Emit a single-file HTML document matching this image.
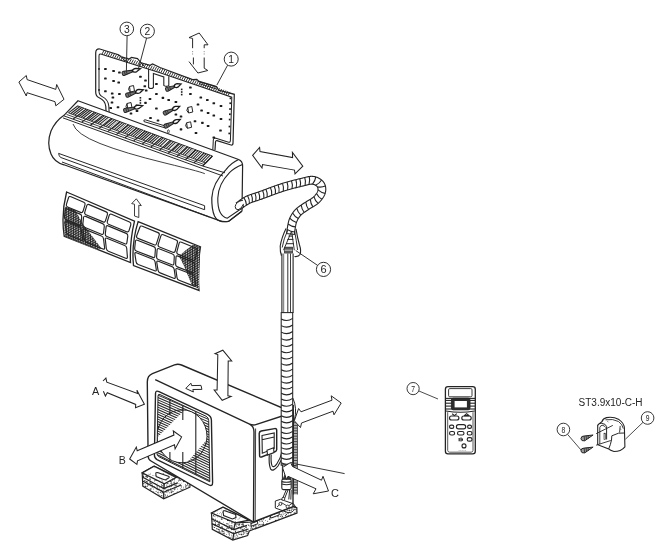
<!DOCTYPE html>
<html lang="en"><head><meta charset="utf-8"><title>Air conditioner installation diagram</title><style>html,body{margin:0;padding:0;background:#fff}body{width:670px;height:552px;overflow:hidden;font-family:"Liberation Sans",Arial,sans-serif}svg{filter:blur(0.35px)}</style></head><body>
<svg width="670" height="552" viewBox="0 0 670 552" style="display:block" font-family="'Liberation Sans', Arial, sans-serif"><rect width="670" height="552" fill="#fff"/><defs>
<pattern id="speck" width="24" height="24" patternUnits="userSpaceOnUse"><rect width="24" height="24" fill="#fff"/><g fill="#333"><circle cx="7.8" cy="3.6" r="0.51"/><circle cx="1.7" cy="12.9" r="0.42"/><circle cx="1.4" cy="12.2" r="0.31"/><circle cx="10.4" cy="1.7" r="0.33"/><circle cx="10.2" cy="19.8" r="0.34"/><circle cx="5.4" cy="15.1" r="0.60"/><circle cx="13.9" cy="9.5" r="0.61"/><circle cx="1.1" cy="20.6" r="0.39"/><circle cx="3.5" cy="2.8" r="0.40"/><circle cx="19.6" cy="4.3" r="0.49"/><circle cx="15.3" cy="8.9" r="0.48"/><circle cx="1.5" cy="1.4" r="0.37"/><circle cx="16.3" cy="10.3" r="0.40"/><circle cx="14.1" cy="10.9" r="0.40"/><circle cx="19.1" cy="16.8" r="0.38"/><circle cx="13.8" cy="12.6" r="0.58"/><circle cx="17.5" cy="6.9" r="0.61"/><circle cx="2.8" cy="10.0" r="0.54"/><circle cx="3.6" cy="11.7" r="0.31"/><circle cx="16.0" cy="18.3" r="0.48"/><circle cx="21.0" cy="7.5" r="0.52"/><circle cx="14.3" cy="13.9" r="0.45"/><circle cx="20.2" cy="22.7" r="0.45"/><circle cx="15.9" cy="1.5" r="0.52"/><circle cx="15.5" cy="23.8" r="0.56"/><circle cx="6.8" cy="9.3" r="0.51"/><circle cx="0.5" cy="11.1" r="0.35"/><circle cx="2.8" cy="1.4" r="0.55"/><circle cx="3.1" cy="5.9" r="0.43"/><circle cx="20.9" cy="1.9" r="0.44"/><circle cx="13.2" cy="21.2" r="0.56"/><circle cx="20.7" cy="6.7" r="0.43"/><circle cx="8.6" cy="21.2" r="0.61"/><circle cx="3.6" cy="4.2" r="0.37"/><circle cx="5.6" cy="11.6" r="0.49"/><circle cx="6.3" cy="0.1" r="0.43"/><circle cx="8.9" cy="13.6" r="0.60"/><circle cx="16.6" cy="12.4" r="0.50"/><circle cx="16.2" cy="1.3" r="0.59"/><circle cx="18.7" cy="21.0" r="0.56"/><circle cx="9.4" cy="9.6" r="0.33"/><circle cx="15.2" cy="1.5" r="0.32"/><circle cx="5.0" cy="3.9" r="0.41"/><circle cx="1.3" cy="0.0" r="0.35"/><circle cx="2.4" cy="8.7" r="0.31"/><circle cx="21.0" cy="14.7" r="0.35"/><circle cx="6.1" cy="8.3" r="0.42"/><circle cx="2.9" cy="20.4" r="0.62"/><circle cx="11.2" cy="11.6" r="0.33"/><circle cx="2.5" cy="8.2" r="0.38"/><circle cx="19.9" cy="3.9" r="0.31"/><circle cx="22.8" cy="12.7" r="0.35"/><circle cx="13.0" cy="0.6" r="0.47"/><circle cx="23.5" cy="20.7" r="0.52"/><circle cx="6.3" cy="8.8" r="0.35"/><circle cx="18.5" cy="12.8" r="0.55"/><circle cx="7.9" cy="5.4" r="0.56"/><circle cx="23.6" cy="20.5" r="0.56"/><circle cx="19.6" cy="17.8" r="0.37"/><circle cx="12.4" cy="8.5" r="0.31"/><circle cx="0.7" cy="6.7" r="0.38"/><circle cx="16.6" cy="23.0" r="0.44"/><circle cx="22.5" cy="23.7" r="0.61"/><circle cx="8.8" cy="5.3" r="0.37"/><circle cx="4.7" cy="4.9" r="0.50"/><circle cx="21.6" cy="20.2" r="0.45"/><circle cx="15.7" cy="19.2" r="0.33"/><circle cx="15.9" cy="21.8" r="0.55"/><circle cx="18.0" cy="11.5" r="0.36"/><circle cx="18.9" cy="8.0" r="0.56"/><circle cx="23.3" cy="9.5" r="0.43"/><circle cx="22.7" cy="17.4" r="0.35"/><circle cx="3.0" cy="3.6" r="0.59"/><circle cx="19.4" cy="3.5" r="0.56"/><circle cx="23.5" cy="15.8" r="0.41"/><circle cx="13.2" cy="3.1" r="0.30"/><circle cx="23.3" cy="15.6" r="0.47"/><circle cx="22.4" cy="10.4" r="0.58"/><circle cx="19.8" cy="5.1" r="0.38"/><circle cx="7.0" cy="5.8" r="0.49"/><circle cx="6.2" cy="10.1" r="0.34"/><circle cx="21.8" cy="8.5" r="0.45"/><circle cx="14.0" cy="21.7" r="0.43"/><circle cx="22.0" cy="12.0" r="0.47"/><circle cx="12.6" cy="0.4" r="0.44"/><circle cx="4.4" cy="0.1" r="0.56"/><circle cx="4.1" cy="11.4" r="0.53"/><circle cx="13.4" cy="7.8" r="0.47"/><circle cx="13.3" cy="18.8" r="0.33"/><circle cx="13.4" cy="6.0" r="0.39"/><circle cx="18.5" cy="12.2" r="0.48"/><circle cx="18.2" cy="21.9" r="0.44"/><circle cx="14.7" cy="12.1" r="0.46"/><circle cx="16.6" cy="10.9" r="0.47"/><circle cx="11.5" cy="22.6" r="0.52"/><circle cx="21.0" cy="22.6" r="0.38"/><circle cx="13.4" cy="22.6" r="0.57"/><circle cx="3.3" cy="2.9" r="0.44"/><circle cx="1.7" cy="5.8" r="0.32"/><circle cx="16.1" cy="18.8" r="0.59"/><circle cx="3.7" cy="17.2" r="0.51"/><circle cx="3.4" cy="21.2" r="0.61"/><circle cx="5.3" cy="22.9" r="0.43"/><circle cx="11.7" cy="23.8" r="0.57"/><circle cx="3.9" cy="10.4" r="0.46"/><circle cx="8.1" cy="4.7" r="0.40"/><circle cx="17.3" cy="0.5" r="0.48"/><circle cx="10.6" cy="0.4" r="0.41"/><circle cx="15.0" cy="12.3" r="0.32"/><circle cx="23.6" cy="18.9" r="0.61"/><circle cx="2.5" cy="6.4" r="0.31"/><circle cx="18.7" cy="6.5" r="0.34"/><circle cx="10.1" cy="21.9" r="0.56"/><circle cx="6.2" cy="3.6" r="0.59"/><circle cx="13.7" cy="16.8" r="0.33"/><circle cx="1.4" cy="16.5" r="0.44"/><circle cx="1.7" cy="22.5" r="0.50"/><circle cx="19.2" cy="2.0" r="0.57"/><circle cx="1.6" cy="20.7" r="0.45"/><circle cx="8.1" cy="13.3" r="0.60"/><circle cx="6.4" cy="3.1" r="0.47"/><circle cx="5.7" cy="2.6" r="0.35"/><circle cx="1.2" cy="4.8" r="0.40"/><circle cx="7.3" cy="18.2" r="0.39"/><circle cx="12.0" cy="4.3" r="0.41"/><circle cx="0.4" cy="6.0" r="0.30"/><circle cx="17.6" cy="13.2" r="0.36"/><circle cx="11.4" cy="22.4" r="0.33"/><circle cx="19.7" cy="10.4" r="0.46"/><circle cx="20.0" cy="9.4" r="0.46"/><circle cx="16.5" cy="23.6" r="0.41"/><circle cx="20.0" cy="17.0" r="0.50"/><circle cx="9.7" cy="8.3" r="0.32"/><circle cx="3.1" cy="1.7" r="0.54"/><circle cx="6.1" cy="3.9" r="0.33"/><circle cx="20.2" cy="20.9" r="0.51"/><circle cx="6.8" cy="5.8" r="0.39"/><circle cx="11.0" cy="3.8" r="0.44"/><circle cx="6.3" cy="23.1" r="0.61"/><circle cx="13.1" cy="5.9" r="0.61"/><circle cx="7.4" cy="8.6" r="0.30"/><circle cx="9.2" cy="11.4" r="0.46"/><circle cx="4.8" cy="12.1" r="0.30"/><circle cx="6.3" cy="2.2" r="0.43"/><circle cx="1.0" cy="0.5" r="0.40"/><circle cx="5.6" cy="14.1" r="0.47"/><circle cx="18.0" cy="15.8" r="0.53"/><circle cx="21.1" cy="9.3" r="0.40"/><circle cx="23.6" cy="3.6" r="0.53"/><circle cx="15.4" cy="1.1" r="0.57"/><circle cx="21.4" cy="15.1" r="0.53"/><circle cx="19.5" cy="3.3" r="0.47"/><circle cx="12.1" cy="20.0" r="0.56"/><circle cx="19.8" cy="14.0" r="0.59"/><circle cx="16.4" cy="16.6" r="0.37"/><circle cx="0.7" cy="3.2" r="0.42"/><circle cx="2.5" cy="20.1" r="0.48"/><circle cx="15.1" cy="15.0" r="0.52"/><circle cx="11.7" cy="0.1" r="0.56"/><circle cx="18.0" cy="12.1" r="0.47"/><circle cx="15.8" cy="1.6" r="0.54"/><circle cx="6.1" cy="1.8" r="0.38"/><circle cx="17.5" cy="4.9" r="0.54"/><circle cx="23.4" cy="11.9" r="0.42"/><circle cx="11.5" cy="16.4" r="0.55"/><circle cx="14.8" cy="15.4" r="0.32"/><circle cx="3.5" cy="6.1" r="0.54"/><circle cx="7.3" cy="13.6" r="0.30"/><circle cx="1.5" cy="6.5" r="0.52"/><circle cx="16.6" cy="16.2" r="0.39"/><circle cx="12.4" cy="11.2" r="0.45"/><circle cx="2.8" cy="21.4" r="0.36"/><circle cx="23.5" cy="22.5" r="0.31"/><circle cx="11.0" cy="19.7" r="0.61"/><circle cx="10.8" cy="6.4" r="0.37"/><circle cx="22.7" cy="5.1" r="0.49"/><circle cx="3.4" cy="12.6" r="0.60"/><circle cx="3.2" cy="19.7" r="0.46"/><circle cx="21.3" cy="16.9" r="0.37"/><circle cx="21.5" cy="11.7" r="0.31"/><circle cx="0.1" cy="11.8" r="0.44"/><circle cx="7.2" cy="3.4" r="0.41"/><circle cx="7.6" cy="20.2" r="0.30"/><circle cx="18.0" cy="20.1" r="0.34"/><circle cx="22.2" cy="17.1" r="0.59"/><circle cx="7.0" cy="8.9" r="0.43"/><circle cx="24.0" cy="14.1" r="0.42"/><circle cx="10.3" cy="6.6" r="0.32"/><circle cx="2.4" cy="20.0" r="0.39"/><circle cx="22.5" cy="6.0" r="0.39"/><circle cx="12.3" cy="4.6" r="0.42"/><circle cx="22.9" cy="21.2" r="0.56"/><circle cx="15.1" cy="21.9" r="0.60"/><circle cx="13.2" cy="17.3" r="0.32"/><circle cx="17.6" cy="10.8" r="0.54"/><circle cx="15.5" cy="6.9" r="0.32"/><circle cx="22.2" cy="3.1" r="0.45"/><circle cx="8.2" cy="7.1" r="0.54"/><circle cx="23.4" cy="6.2" r="0.51"/><circle cx="7.2" cy="13.4" r="0.43"/><circle cx="4.0" cy="3.9" r="0.37"/><circle cx="21.7" cy="11.9" r="0.37"/><circle cx="21.8" cy="23.9" r="0.44"/><circle cx="3.4" cy="4.6" r="0.33"/><circle cx="8.2" cy="2.2" r="0.38"/><circle cx="6.2" cy="13.7" r="0.58"/><circle cx="18.0" cy="9.9" r="0.43"/><circle cx="12.6" cy="9.0" r="0.41"/><circle cx="1.5" cy="6.7" r="0.61"/><circle cx="3.0" cy="12.1" r="0.50"/><circle cx="20.7" cy="5.2" r="0.39"/><circle cx="6.0" cy="9.6" r="0.44"/><circle cx="22.9" cy="20.4" r="0.58"/><circle cx="0.5" cy="0.8" r="0.53"/><circle cx="21.5" cy="11.4" r="0.49"/><circle cx="0.0" cy="9.4" r="0.60"/><circle cx="19.8" cy="20.5" r="0.61"/><circle cx="6.0" cy="2.6" r="0.35"/><circle cx="12.5" cy="16.4" r="0.60"/><circle cx="17.3" cy="15.5" r="0.54"/><circle cx="11.0" cy="13.2" r="0.31"/><circle cx="18.8" cy="5.6" r="0.59"/><circle cx="15.5" cy="7.3" r="0.34"/><circle cx="6.0" cy="15.3" r="0.52"/><circle cx="2.7" cy="1.7" r="0.47"/><circle cx="14.0" cy="9.3" r="0.37"/><circle cx="14.4" cy="0.3" r="0.40"/><circle cx="11.1" cy="23.0" r="0.51"/><circle cx="21.2" cy="11.4" r="0.38"/><circle cx="5.9" cy="23.1" r="0.53"/></g></pattern>
<pattern id="speck2" width="24" height="24" patternUnits="userSpaceOnUse"><rect width="24" height="24" fill="#fff"/><g fill="#444"><circle cx="7.4" cy="0.5" r="0.4"/><circle cx="12.0" cy="16.2" r="0.4"/><circle cx="10.1" cy="6.2" r="0.4"/><circle cx="16.0" cy="22.2" r="0.4"/><circle cx="5.4" cy="0.8" r="0.4"/><circle cx="8.1" cy="10.1" r="0.4"/><circle cx="16.4" cy="4.8" r="0.4"/><circle cx="19.1" cy="17.7" r="0.4"/><circle cx="12.1" cy="4.9" r="0.4"/><circle cx="23.3" cy="7.5" r="0.4"/><circle cx="19.7" cy="5.5" r="0.4"/><circle cx="5.3" cy="18.3" r="0.4"/><circle cx="7.1" cy="22.8" r="0.4"/><circle cx="11.9" cy="4.5" r="0.4"/><circle cx="5.4" cy="10.0" r="0.4"/><circle cx="16.0" cy="22.8" r="0.4"/><circle cx="3.5" cy="9.4" r="0.4"/><circle cx="5.1" cy="23.4" r="0.4"/><circle cx="3.4" cy="1.2" r="0.4"/><circle cx="1.4" cy="9.4" r="0.4"/><circle cx="21.6" cy="21.2" r="0.4"/><circle cx="17.6" cy="23.9" r="0.4"/><circle cx="22.4" cy="7.9" r="0.4"/><circle cx="4.5" cy="22.5" r="0.4"/><circle cx="17.9" cy="0.8" r="0.4"/><circle cx="15.9" cy="9.1" r="0.4"/><circle cx="9.0" cy="8.0" r="0.4"/><circle cx="4.1" cy="0.1" r="0.4"/><circle cx="6.7" cy="8.4" r="0.4"/><circle cx="22.9" cy="3.0" r="0.4"/><circle cx="23.1" cy="5.0" r="0.4"/><circle cx="8.6" cy="19.7" r="0.4"/><circle cx="19.7" cy="10.4" r="0.4"/><circle cx="1.2" cy="11.4" r="0.4"/><circle cx="8.9" cy="22.1" r="0.4"/><circle cx="4.6" cy="8.7" r="0.4"/><circle cx="21.5" cy="0.7" r="0.4"/><circle cx="9.9" cy="19.5" r="0.4"/><circle cx="18.4" cy="1.0" r="0.4"/><circle cx="0.8" cy="1.5" r="0.4"/><circle cx="22.1" cy="6.2" r="0.4"/><circle cx="17.9" cy="21.6" r="0.4"/><circle cx="8.1" cy="6.5" r="0.4"/><circle cx="23.0" cy="14.8" r="0.4"/><circle cx="6.3" cy="17.2" r="0.4"/><circle cx="7.6" cy="6.6" r="0.4"/><circle cx="0.1" cy="18.1" r="0.4"/><circle cx="22.0" cy="15.2" r="0.4"/><circle cx="22.6" cy="0.6" r="0.4"/><circle cx="5.6" cy="11.4" r="0.4"/><circle cx="23.0" cy="22.9" r="0.4"/><circle cx="9.3" cy="6.0" r="0.4"/><circle cx="10.3" cy="11.8" r="0.4"/><circle cx="22.3" cy="4.4" r="0.4"/><circle cx="19.3" cy="17.7" r="0.4"/><circle cx="19.7" cy="18.5" r="0.4"/><circle cx="14.6" cy="7.9" r="0.4"/><circle cx="7.7" cy="8.7" r="0.4"/><circle cx="18.8" cy="1.9" r="0.4"/><circle cx="4.7" cy="18.1" r="0.4"/><circle cx="5.9" cy="1.6" r="0.4"/><circle cx="0.8" cy="13.3" r="0.4"/><circle cx="7.8" cy="23.5" r="0.4"/><circle cx="21.2" cy="23.7" r="0.4"/><circle cx="6.4" cy="2.0" r="0.4"/><circle cx="2.3" cy="12.0" r="0.4"/><circle cx="17.0" cy="10.7" r="0.4"/><circle cx="5.6" cy="10.0" r="0.4"/><circle cx="14.9" cy="16.2" r="0.4"/><circle cx="18.0" cy="20.3" r="0.4"/><circle cx="15.9" cy="2.9" r="0.4"/><circle cx="20.2" cy="7.1" r="0.4"/><circle cx="13.6" cy="9.0" r="0.4"/><circle cx="17.7" cy="4.8" r="0.4"/><circle cx="5.9" cy="5.9" r="0.4"/><circle cx="3.7" cy="21.2" r="0.4"/><circle cx="13.9" cy="7.8" r="0.4"/><circle cx="9.5" cy="23.8" r="0.4"/><circle cx="12.2" cy="5.6" r="0.4"/><circle cx="19.4" cy="15.7" r="0.4"/><circle cx="23.8" cy="2.5" r="0.4"/><circle cx="11.4" cy="19.7" r="0.4"/><circle cx="20.2" cy="21.9" r="0.4"/><circle cx="1.0" cy="7.0" r="0.4"/><circle cx="2.9" cy="4.5" r="0.4"/><circle cx="23.4" cy="14.0" r="0.4"/><circle cx="22.3" cy="8.9" r="0.4"/><circle cx="20.8" cy="10.8" r="0.4"/><circle cx="6.2" cy="18.7" r="0.4"/><circle cx="22.7" cy="2.5" r="0.4"/></g></pattern>
<pattern id="mesh" width="1.7" height="1.7" patternUnits="userSpaceOnUse" patternTransform="skewY(22)"><rect width="1.7" height="1.7" fill="#fff"/><path d="M0,0.5H1.7M0.5,0V1.7" stroke="#1e1e1e" stroke-width="0.85"/></pattern>
</defs>
<path d="M106.2,116 L105.8,106.5 Q105.2,100.5 99.2,97.8 Q95.7,96.2 95.7,92 L95.7,53 Q95.7,48.6 99.8,49 L118.5,54.7 L121.5,57 L129,59 L131.5,57.5 L137.5,58.6 L141,62.8 L150,65.3 L152.5,64 L160,67.5 L192.6,79.6 L196.8,79.4 L199,81.4 L216.5,86.6 L218.7,90.2 L234.3,94.3 L233,143.4 Q232.9,145.4 231,145 L217,140.7 Q215.6,140.4 215.5,142 L215,150" fill="#fff" stroke="#242424" stroke-width="1.21" />
<path d="M109.2,114 L108.8,106 Q108.2,99.5 102.2,96.6 Q99,95 99,91 L99,56 Q99,53.4 101.5,54.2 L160,72.8 L231.8,97.2 L230.4,140.6 Q230.3,142.6 228.6,142.2 L216,138.3 Q213.5,137.6 213.3,140 L212.8,150" fill="none" stroke="#242424" stroke-width="1.045" />
<line x1="102.00" y1="54.06" x2="104.00" y2="50.36" stroke="#242424" stroke-width="0.935" />
<line x1="104.10" y1="54.73" x2="106.10" y2="51.03" stroke="#242424" stroke-width="0.935" />
<line x1="106.20" y1="55.39" x2="108.20" y2="51.69" stroke="#242424" stroke-width="0.935" />
<line x1="108.30" y1="56.06" x2="110.30" y2="52.36" stroke="#242424" stroke-width="0.935" />
<line x1="110.40" y1="56.73" x2="112.40" y2="53.03" stroke="#242424" stroke-width="0.935" />
<line x1="112.50" y1="57.40" x2="114.50" y2="53.70" stroke="#242424" stroke-width="0.935" />
<line x1="114.60" y1="58.07" x2="116.60" y2="54.37" stroke="#242424" stroke-width="0.935" />
<line x1="116.70" y1="58.73" x2="118.70" y2="55.03" stroke="#242424" stroke-width="0.935" />
<line x1="118.80" y1="59.40" x2="120.80" y2="55.70" stroke="#242424" stroke-width="0.935" />
<line x1="120.90" y1="60.07" x2="122.90" y2="56.37" stroke="#242424" stroke-width="0.935" />
<line x1="123.00" y1="60.74" x2="125.00" y2="57.04" stroke="#242424" stroke-width="0.935" />
<line x1="125.10" y1="61.40" x2="127.10" y2="57.70" stroke="#242424" stroke-width="0.935" />
<line x1="127.20" y1="62.07" x2="129.20" y2="58.37" stroke="#242424" stroke-width="0.935" />
<line x1="129.30" y1="62.74" x2="131.30" y2="59.04" stroke="#242424" stroke-width="0.935" />
<line x1="131.40" y1="63.41" x2="133.40" y2="59.71" stroke="#242424" stroke-width="0.935" />
<line x1="133.50" y1="64.07" x2="135.50" y2="60.37" stroke="#242424" stroke-width="0.935" />
<line x1="135.60" y1="64.74" x2="137.60" y2="61.04" stroke="#242424" stroke-width="0.935" />
<line x1="137.70" y1="65.41" x2="139.70" y2="61.71" stroke="#242424" stroke-width="0.935" />
<line x1="139.80" y1="66.08" x2="141.80" y2="62.38" stroke="#242424" stroke-width="0.935" />
<line x1="141.90" y1="66.75" x2="143.90" y2="63.05" stroke="#242424" stroke-width="0.935" />
<line x1="144.00" y1="67.41" x2="146.00" y2="63.71" stroke="#242424" stroke-width="0.935" />
<line x1="146.10" y1="68.08" x2="148.10" y2="64.38" stroke="#242424" stroke-width="0.935" />
<line x1="148.20" y1="68.75" x2="150.20" y2="65.05" stroke="#242424" stroke-width="0.935" />
<line x1="150.30" y1="69.42" x2="152.30" y2="65.72" stroke="#242424" stroke-width="0.935" />
<line x1="152.40" y1="70.08" x2="154.40" y2="66.38" stroke="#242424" stroke-width="0.935" />
<line x1="154.50" y1="70.75" x2="156.50" y2="67.05" stroke="#242424" stroke-width="0.935" />
<line x1="156.60" y1="71.42" x2="158.60" y2="67.72" stroke="#242424" stroke-width="0.935" />
<line x1="158.70" y1="72.09" x2="160.70" y2="68.39" stroke="#242424" stroke-width="0.935" />
<line x1="160.80" y1="72.77" x2="162.80" y2="69.07" stroke="#242424" stroke-width="0.935" />
<line x1="162.90" y1="73.49" x2="164.90" y2="69.79" stroke="#242424" stroke-width="0.935" />
<line x1="165.00" y1="74.20" x2="167.00" y2="70.50" stroke="#242424" stroke-width="0.935" />
<line x1="167.10" y1="74.91" x2="169.10" y2="71.21" stroke="#242424" stroke-width="0.935" />
<line x1="169.20" y1="75.63" x2="171.20" y2="71.93" stroke="#242424" stroke-width="0.935" />
<line x1="171.30" y1="76.34" x2="173.30" y2="72.64" stroke="#242424" stroke-width="0.935" />
<line x1="173.40" y1="77.05" x2="175.40" y2="73.35" stroke="#242424" stroke-width="0.935" />
<line x1="175.50" y1="77.77" x2="177.50" y2="74.07" stroke="#242424" stroke-width="0.935" />
<line x1="177.60" y1="78.48" x2="179.60" y2="74.78" stroke="#242424" stroke-width="0.935" />
<line x1="179.70" y1="79.19" x2="181.70" y2="75.49" stroke="#242424" stroke-width="0.935" />
<line x1="181.80" y1="79.91" x2="183.80" y2="76.21" stroke="#242424" stroke-width="0.935" />
<line x1="183.90" y1="80.62" x2="185.90" y2="76.92" stroke="#242424" stroke-width="0.935" />
<line x1="186.00" y1="81.34" x2="188.00" y2="77.64" stroke="#242424" stroke-width="0.935" />
<line x1="188.10" y1="82.05" x2="190.10" y2="78.35" stroke="#242424" stroke-width="0.935" />
<line x1="190.20" y1="82.76" x2="192.20" y2="79.06" stroke="#242424" stroke-width="0.935" />
<line x1="192.30" y1="83.48" x2="194.30" y2="79.78" stroke="#242424" stroke-width="0.935" />
<line x1="194.40" y1="84.19" x2="196.40" y2="80.49" stroke="#242424" stroke-width="0.935" />
<line x1="196.50" y1="84.90" x2="198.50" y2="81.20" stroke="#242424" stroke-width="0.935" />
<line x1="198.60" y1="85.62" x2="200.60" y2="81.92" stroke="#242424" stroke-width="0.935" />
<line x1="200.70" y1="86.33" x2="202.70" y2="82.63" stroke="#242424" stroke-width="0.935" />
<line x1="202.80" y1="87.04" x2="204.80" y2="83.34" stroke="#242424" stroke-width="0.935" />
<line x1="204.90" y1="87.76" x2="206.90" y2="84.06" stroke="#242424" stroke-width="0.935" />
<line x1="207.00" y1="88.47" x2="209.00" y2="84.77" stroke="#242424" stroke-width="0.935" />
<line x1="209.10" y1="89.19" x2="211.10" y2="85.49" stroke="#242424" stroke-width="0.935" />
<line x1="211.20" y1="89.90" x2="213.20" y2="86.20" stroke="#242424" stroke-width="0.935" />
<line x1="213.30" y1="90.61" x2="215.30" y2="86.91" stroke="#242424" stroke-width="0.935" />
<line x1="215.40" y1="91.33" x2="217.40" y2="87.63" stroke="#242424" stroke-width="0.935" />
<line x1="217.50" y1="92.04" x2="219.50" y2="88.34" stroke="#242424" stroke-width="0.935" />
<line x1="219.60" y1="92.75" x2="221.60" y2="89.05" stroke="#242424" stroke-width="0.935" />
<line x1="221.70" y1="93.47" x2="223.70" y2="89.77" stroke="#242424" stroke-width="0.935" />
<line x1="223.80" y1="94.18" x2="225.80" y2="90.48" stroke="#242424" stroke-width="0.935" />
<line x1="225.90" y1="94.89" x2="227.90" y2="91.19" stroke="#242424" stroke-width="0.935" />
<line x1="228.00" y1="95.61" x2="230.00" y2="91.91" stroke="#242424" stroke-width="0.935" />
<path d="M197.5,81.2 L217,87 M199,83.6 L216,88.8 M121.5,57 L125,61 M141,62.8 L144,66.2" fill="none" stroke="#242424" stroke-width="0.99" />
<path d="M148.6,69 L148.6,87.5 Q151,89.6 153.4,87.5 L153.4,73.4 L163.8,76.9 L163.8,85.4 Q166.3,87.4 168.8,85.4 L168.8,76.2" fill="none" stroke="#242424" stroke-width="1.1" />
<path d="M144,121.6 Q143.2,119.6 145.2,119.8 L166.5,126.4 M144,121.6 L165.5,128" fill="none" stroke="#242424" stroke-width="0.99" />
<rect x="104.1" y="67.9" width="2.6" height="2.1" rx="0.6" fill="#1c1c1c"/>
<rect x="112.3" y="69.9" width="2.6" height="2.1" rx="0.6" fill="#1c1c1c"/>
<rect x="118.1" y="71.4" width="2.6" height="2.1" rx="0.6" fill="#1c1c1c"/>
<rect x="104.1" y="77.5" width="2.6" height="2.1" rx="0.6" fill="#1c1c1c"/>
<rect x="112.3" y="80.0" width="2.6" height="2.1" rx="0.6" fill="#1c1c1c"/>
<rect x="117.4" y="81.5" width="2.6" height="2.1" rx="0.6" fill="#1c1c1c"/>
<rect x="104.1" y="90.2" width="2.6" height="2.1" rx="0.6" fill="#1c1c1c"/>
<rect x="110.9" y="92.4" width="2.6" height="2.1" rx="0.6" fill="#1c1c1c"/>
<rect x="118.1" y="93.0" width="2.6" height="2.1" rx="0.6" fill="#1c1c1c"/>
<rect x="111.6" y="96.5" width="2.6" height="2.1" rx="0.6" fill="#1c1c1c"/>
<rect x="109.4" y="106.9" width="2.6" height="2.1" rx="0.6" fill="#1c1c1c"/>
<rect x="116.7" y="106.2" width="2.6" height="2.1" rx="0.6" fill="#1c1c1c"/>
<rect x="110.7" y="101.5" width="2.6" height="2.1" rx="0.6" fill="#1c1c1c"/>
<rect x="139.1" y="75.7" width="2.6" height="2.1" rx="0.6" fill="#1c1c1c"/>
<rect x="144.2" y="79.4" width="2.6" height="2.1" rx="0.6" fill="#1c1c1c"/>
<rect x="143.5" y="85.2" width="2.6" height="2.1" rx="0.6" fill="#1c1c1c"/>
<rect x="144.9" y="89.5" width="2.6" height="2.1" rx="0.6" fill="#1c1c1c"/>
<rect x="144.2" y="101.8" width="2.6" height="2.1" rx="0.6" fill="#1c1c1c"/>
<rect x="135.7" y="110.0" width="2.6" height="2.1" rx="0.6" fill="#1c1c1c"/>
<rect x="155.1" y="83.0" width="2.6" height="2.1" rx="0.6" fill="#1c1c1c"/>
<rect x="155.1" y="93.0" width="2.6" height="2.1" rx="0.6" fill="#1c1c1c"/>
<rect x="161.6" y="96.8" width="2.6" height="2.1" rx="0.6" fill="#1c1c1c"/>
<rect x="167.4" y="98.9" width="2.6" height="2.1" rx="0.6" fill="#1c1c1c"/>
<rect x="174.6" y="101.0" width="2.6" height="2.1" rx="0.6" fill="#1c1c1c"/>
<rect x="155.1" y="107.5" width="2.6" height="2.1" rx="0.6" fill="#1c1c1c"/>
<rect x="148.7" y="98.0" width="2.6" height="2.1" rx="0.6" fill="#1c1c1c"/>
<rect x="174.6" y="113.4" width="2.6" height="2.1" rx="0.6" fill="#1c1c1c"/>
<rect x="179.7" y="115.5" width="2.6" height="2.1" rx="0.6" fill="#1c1c1c"/>
<rect x="179.7" y="128.3" width="2.6" height="2.1" rx="0.6" fill="#1c1c1c"/>
<rect x="189.1" y="86.5" width="2.6" height="2.1" rx="0.6" fill="#1c1c1c"/>
<rect x="189.1" y="93.0" width="2.6" height="2.1" rx="0.6" fill="#1c1c1c"/>
<rect x="196.7" y="103.5" width="2.6" height="2.1" rx="0.6" fill="#1c1c1c"/>
<rect x="199.5" y="96.5" width="2.6" height="2.1" rx="0.6" fill="#1c1c1c"/>
<rect x="206.0" y="99.0" width="2.6" height="2.1" rx="0.6" fill="#1c1c1c"/>
<rect x="212.5" y="102.2" width="2.6" height="2.1" rx="0.6" fill="#1c1c1c"/>
<rect x="200.3" y="109.5" width="2.6" height="2.1" rx="0.6" fill="#1c1c1c"/>
<rect x="206.8" y="112.0" width="2.6" height="2.1" rx="0.6" fill="#1c1c1c"/>
<rect x="212.5" y="114.5" width="2.6" height="2.1" rx="0.6" fill="#1c1c1c"/>
<rect x="193.7" y="120.2" width="2.6" height="2.1" rx="0.6" fill="#1c1c1c"/>
<rect x="201.1" y="121.8" width="2.6" height="2.1" rx="0.6" fill="#1c1c1c"/>
<rect x="206.8" y="125.0" width="2.6" height="2.1" rx="0.6" fill="#1c1c1c"/>
<rect x="212.5" y="136.4" width="2.6" height="2.1" rx="0.6" fill="#1c1c1c"/>
<rect x="194.7" y="131.9" width="2.6" height="2.1" rx="0.6" fill="#1c1c1c"/>
<rect x="219.7" y="105.0" width="2.6" height="2.1" rx="0.6" fill="#1c1c1c"/>
<rect x="219.7" y="118.0" width="2.6" height="2.1" rx="0.6" fill="#1c1c1c"/>
<rect x="219.2" y="129.4" width="2.6" height="2.1" rx="0.6" fill="#1c1c1c"/>
<rect x="129.7" y="112.5" width="2.6" height="2.1" rx="0.6" fill="#1c1c1c"/>
<rect x="149.2" y="117.0" width="2.6" height="2.1" rx="0.6" fill="#1c1c1c"/>
<rect x="156.7" y="119.4" width="2.6" height="2.1" rx="0.6" fill="#1c1c1c"/>
<rect x="180.9" y="88.6" width="1.6" height="1.6" fill="#1c1c1c"/>
<rect x="180.9" y="91.2" width="1.6" height="1.6" fill="#1c1c1c"/>
<rect x="180.9" y="93.8" width="1.6" height="1.6" fill="#1c1c1c"/>
<rect x="139.6" y="97.0" width="1.6" height="1.6" fill="#1c1c1c"/>
<rect x="139.6" y="99.6" width="1.6" height="1.6" fill="#1c1c1c"/>
<rect x="139.6" y="102.2" width="1.6" height="1.6" fill="#1c1c1c"/>
<rect x="173.8" y="107.0" width="1.6" height="1.6" fill="#1c1c1c"/>
<rect x="173.8" y="109.6" width="1.6" height="1.6" fill="#1c1c1c"/>
<rect x="135.7" y="104.5" width="1.6" height="1.6" fill="#1c1c1c"/>
<rect x="135.7" y="107.1" width="1.6" height="1.6" fill="#1c1c1c"/>
<rect x="229.6" y="97.5" width="1.7" height="1.7" fill="#1c1c1c"/>
<rect x="229.4" y="102.4" width="1.7" height="1.7" fill="#1c1c1c"/>
<rect x="229.2" y="108.2" width="1.7" height="1.7" fill="#1c1c1c"/>
<rect x="229.0" y="113.4" width="1.7" height="1.7" fill="#1c1c1c"/>
<rect x="228.8" y="118.7" width="1.7" height="1.7" fill="#1c1c1c"/>
<rect x="228.6" y="125.7" width="1.7" height="1.7" fill="#1c1c1c"/>
<rect x="228.4" y="132.6" width="1.7" height="1.7" fill="#1c1c1c"/>
<rect x="98.2" y="68.1" width="1.6" height="1.7" fill="#1c1c1c"/>
<rect x="98.2" y="89.1" width="1.6" height="1.7" fill="#1c1c1c"/>
<path d="M129.5,86.5 L133.5,85.5 L134.5,91.0 L130.3,92.0 Z M130.3,92.0 L128.5,89.5 L129.5,86.5" fill="#fff" stroke="#242424" stroke-width="0.99" />
<path d="M127,103.5 L131,102.5 L132,108.0 L127.8,109.0 Z M127.8,109.0 L126,106.5 L127,103.5" fill="#fff" stroke="#242424" stroke-width="0.99" />
<path d="M187.8,107.5 L191.8,106.5 L192.8,112.0 L188.60000000000002,113.0 Z M188.60000000000002,113.0 L186.8,110.5 L187.8,107.5" fill="#fff" stroke="#242424" stroke-width="0.99" />
<path d="M186.6,122.8 L190.6,121.8 L191.6,127.3 L187.4,128.3 Z M187.4,128.3 L185.6,125.8 L186.6,122.8" fill="#fff" stroke="#242424" stroke-width="0.99" />
<g transform="translate(122.3 73.8) rotate(-15.4)">
<path d="M0,0 Q-0.4,-2.2 2,-2.1 L10.9,-0.8 L10.9,0.8 L2,2.1 Q-0.4,2.2 0,0 Z" fill="#777" stroke="#242424" stroke-width="1.0"/>
<path d="M2.6,-1.9 V1.9 M4.6,-1.6 V1.6" stroke="#242424" stroke-width="0.7"/>
<path d="M10.3,0 Q11.6,-2.3 14.6,-1.7 L18.8,0 L14.6,1.7 Q11.6,2.3 10.3,0 Z" fill="#fff" stroke="#1a1a1a" stroke-width="1.3"/>
</g>
<g transform="translate(125.9 95.6) rotate(-18.4)">
<path d="M0,0 Q-0.4,-2.2 2,-2.1 L10.6,-0.8 L10.6,0.8 L2,2.1 Q-0.4,2.2 0,0 Z" fill="#777" stroke="#242424" stroke-width="1.0"/>
<path d="M2.6,-1.9 V1.9 M4.6,-1.6 V1.6" stroke="#242424" stroke-width="0.7"/>
<path d="M10.1,0 Q11.4,-2.3 14.3,-1.7 L18.3,0 L14.3,1.7 Q11.4,2.3 10.1,0 Z" fill="#fff" stroke="#1a1a1a" stroke-width="1.3"/>
</g>
<g transform="translate(123.8 110.8) rotate(-15.2)">
<path d="M0,0 Q-0.4,-2.2 2,-2.1 L11.3,-0.8 L11.3,0.8 L2,2.1 Q-0.4,2.2 0,0 Z" fill="#777" stroke="#242424" stroke-width="1.0"/>
<path d="M2.6,-1.9 V1.9 M4.6,-1.6 V1.6" stroke="#242424" stroke-width="0.7"/>
<path d="M10.7,0 Q12.1,-2.3 15.2,-1.7 L19.5,0 L15.2,1.7 Q12.1,2.3 10.7,0 Z" fill="#fff" stroke="#1a1a1a" stroke-width="1.3"/>
</g>
<g transform="translate(165.8 89.8) rotate(-20.9)">
<path d="M0,0 Q-0.4,-2.2 2,-2.1 L9.4,-0.8 L9.4,0.8 L2,2.1 Q-0.4,2.2 0,0 Z" fill="#777" stroke="#242424" stroke-width="1.0"/>
<path d="M2.6,-1.9 V1.9 M4.6,-1.6 V1.6" stroke="#242424" stroke-width="0.7"/>
<path d="M8.9,0 Q10.1,-2.3 12.7,-1.7 L16.3,0 L12.7,1.7 Q10.1,2.3 8.9,0 Z" fill="#fff" stroke="#1a1a1a" stroke-width="1.3"/>
</g>
<g transform="translate(163.6 113.7) rotate(-24.5)">
<path d="M0,0 Q-0.4,-2.2 2,-2.1 L10.2,-0.8 L10.2,0.8 L2,2.1 Q-0.4,2.2 0,0 Z" fill="#777" stroke="#242424" stroke-width="1.0"/>
<path d="M2.6,-1.9 V1.9 M4.6,-1.6 V1.6" stroke="#242424" stroke-width="0.7"/>
<path d="M9.7,0 Q10.9,-2.3 13.7,-1.7 L17.6,0 L13.7,1.7 Q10.9,2.3 9.7,0 Z" fill="#fff" stroke="#1a1a1a" stroke-width="1.3"/>
</g>
<g transform="translate(164.3 126.7) rotate(-24.2)">
<path d="M0,0 Q-0.4,-2.2 2,-2.1 L10.2,-0.8 L10.2,0.8 L2,2.1 Q-0.4,2.2 0,0 Z" fill="#777" stroke="#242424" stroke-width="1.0"/>
<path d="M2.6,-1.9 V1.9 M4.6,-1.6 V1.6" stroke="#242424" stroke-width="0.7"/>
<path d="M9.6,0 Q10.9,-2.3 13.7,-1.7 L17.5,0 L13.7,1.7 Q10.9,2.3 9.6,0 Z" fill="#fff" stroke="#1a1a1a" stroke-width="1.3"/>
</g>
<ellipse cx="168.4" cy="131.4" rx="0.9" ry="1.6" fill="#fff" stroke="#242424" stroke-width="0.8"/>
<path d="M78,100.8 L238.6,159.5 Q242.6,161 242.6,166 L242,211 L228.5,221.4 Q223,222.2 219.5,220.6 L64,164.8 Q54.5,162.5 51,154 Q46.5,143 51,131 Q55.5,121 64,115.3 Z" fill="#fff" stroke="#242424" stroke-width="1.21" />
<line x1="77.40" y1="105.80" x2="212.30" y2="156.00" stroke="#242424" stroke-width="0.99" />
<line x1="64.00" y1="115.90" x2="202.70" y2="166.00" stroke="#242424" stroke-width="0.99" />
<line x1="63.00" y1="117.90" x2="223.00" y2="176.00" stroke="#242424" stroke-width="0.99" />
<line x1="202.70" y1="166.00" x2="225.00" y2="172.80" stroke="#242424" stroke-width="0.99" />
<line x1="77.60" y1="106.00" x2="68.50" y2="112.93" stroke="#262626" stroke-width="1.1" />
<line x1="79.64" y1="106.76" x2="70.58" y2="113.69" stroke="#262626" stroke-width="1.1" />
<line x1="81.68" y1="107.52" x2="72.65" y2="114.45" stroke="#262626" stroke-width="1.1" />
<line x1="83.72" y1="108.27" x2="74.73" y2="115.21" stroke="#262626" stroke-width="1.1" />
<line x1="85.76" y1="109.03" x2="76.81" y2="115.96" stroke="#262626" stroke-width="1.1" />
<line x1="87.80" y1="109.79" x2="78.88" y2="116.72" stroke="#262626" stroke-width="1.1" />
<line x1="89.85" y1="110.55" x2="80.96" y2="117.48" stroke="#262626" stroke-width="1.1" />
<line x1="91.89" y1="111.30" x2="83.04" y2="118.24" stroke="#262626" stroke-width="1.1" />
<line x1="93.93" y1="112.06" x2="85.12" y2="119.00" stroke="#262626" stroke-width="1.1" />
<line x1="95.97" y1="112.82" x2="87.19" y2="119.76" stroke="#262626" stroke-width="1.1" />
<line x1="98.01" y1="113.58" x2="89.27" y2="120.52" stroke="#262626" stroke-width="1.1" />
<line x1="100.05" y1="114.33" x2="91.35" y2="121.28" stroke="#262626" stroke-width="1.1" />
<line x1="102.09" y1="115.09" x2="93.42" y2="122.03" stroke="#262626" stroke-width="1.1" />
<line x1="104.13" y1="115.85" x2="95.50" y2="122.79" stroke="#262626" stroke-width="1.1" />
<line x1="106.17" y1="116.61" x2="97.58" y2="123.55" stroke="#262626" stroke-width="1.1" />
<line x1="108.21" y1="117.36" x2="99.65" y2="124.31" stroke="#262626" stroke-width="1.1" />
<line x1="110.25" y1="118.12" x2="101.73" y2="125.07" stroke="#262626" stroke-width="1.1" />
<line x1="112.30" y1="118.88" x2="103.81" y2="125.83" stroke="#262626" stroke-width="1.1" />
<line x1="114.34" y1="119.64" x2="105.89" y2="126.59" stroke="#262626" stroke-width="1.1" />
<line x1="116.38" y1="120.39" x2="107.96" y2="127.34" stroke="#262626" stroke-width="1.1" />
<line x1="118.42" y1="121.15" x2="110.04" y2="128.10" stroke="#262626" stroke-width="1.1" />
<line x1="120.46" y1="121.91" x2="112.12" y2="128.86" stroke="#262626" stroke-width="1.1" />
<line x1="122.50" y1="122.67" x2="114.19" y2="129.62" stroke="#262626" stroke-width="1.1" />
<line x1="124.54" y1="123.42" x2="116.27" y2="130.38" stroke="#262626" stroke-width="1.1" />
<line x1="126.58" y1="124.18" x2="118.35" y2="131.14" stroke="#262626" stroke-width="1.1" />
<line x1="128.62" y1="124.94" x2="120.42" y2="131.90" stroke="#262626" stroke-width="1.1" />
<line x1="130.66" y1="125.70" x2="122.50" y2="132.65" stroke="#262626" stroke-width="1.1" />
<line x1="132.70" y1="126.45" x2="124.58" y2="133.41" stroke="#262626" stroke-width="1.1" />
<line x1="134.75" y1="127.21" x2="126.66" y2="134.17" stroke="#262626" stroke-width="1.1" />
<line x1="136.79" y1="127.97" x2="128.73" y2="134.93" stroke="#262626" stroke-width="1.1" />
<line x1="138.83" y1="128.73" x2="130.81" y2="135.69" stroke="#262626" stroke-width="1.1" />
<line x1="140.87" y1="129.48" x2="132.89" y2="136.45" stroke="#262626" stroke-width="1.1" />
<line x1="142.91" y1="130.24" x2="134.96" y2="137.21" stroke="#262626" stroke-width="1.1" />
<line x1="144.95" y1="131.00" x2="137.04" y2="137.97" stroke="#262626" stroke-width="1.1" />
<line x1="146.99" y1="131.76" x2="139.12" y2="138.72" stroke="#262626" stroke-width="1.1" />
<line x1="149.03" y1="132.52" x2="141.19" y2="139.48" stroke="#262626" stroke-width="1.1" />
<line x1="151.07" y1="133.27" x2="143.27" y2="140.24" stroke="#262626" stroke-width="1.1" />
<line x1="153.11" y1="134.03" x2="145.35" y2="141.00" stroke="#262626" stroke-width="1.1" />
<line x1="155.15" y1="134.79" x2="147.42" y2="141.76" stroke="#262626" stroke-width="1.1" />
<line x1="157.20" y1="135.55" x2="149.50" y2="142.52" stroke="#262626" stroke-width="1.1" />
<line x1="159.24" y1="136.30" x2="151.58" y2="143.28" stroke="#262626" stroke-width="1.1" />
<line x1="161.28" y1="137.06" x2="153.66" y2="144.03" stroke="#262626" stroke-width="1.1" />
<line x1="163.32" y1="137.82" x2="155.73" y2="144.79" stroke="#262626" stroke-width="1.1" />
<line x1="165.36" y1="138.58" x2="157.81" y2="145.55" stroke="#262626" stroke-width="1.1" />
<line x1="167.40" y1="139.33" x2="159.89" y2="146.31" stroke="#262626" stroke-width="1.1" />
<line x1="169.44" y1="140.09" x2="161.96" y2="147.07" stroke="#262626" stroke-width="1.1" />
<line x1="171.48" y1="140.85" x2="164.04" y2="147.83" stroke="#262626" stroke-width="1.1" />
<line x1="173.52" y1="141.61" x2="166.12" y2="148.59" stroke="#262626" stroke-width="1.1" />
<line x1="175.56" y1="142.36" x2="168.19" y2="149.34" stroke="#262626" stroke-width="1.1" />
<line x1="177.60" y1="143.12" x2="170.27" y2="150.10" stroke="#262626" stroke-width="1.1" />
<line x1="179.65" y1="143.88" x2="172.35" y2="150.86" stroke="#262626" stroke-width="1.1" />
<line x1="181.69" y1="144.64" x2="174.43" y2="151.62" stroke="#262626" stroke-width="1.1" />
<line x1="183.73" y1="145.39" x2="176.50" y2="152.38" stroke="#262626" stroke-width="1.1" />
<line x1="185.77" y1="146.15" x2="178.58" y2="153.14" stroke="#262626" stroke-width="1.1" />
<line x1="187.81" y1="146.91" x2="180.66" y2="153.90" stroke="#262626" stroke-width="1.1" />
<line x1="189.85" y1="147.67" x2="182.73" y2="154.66" stroke="#262626" stroke-width="1.1" />
<line x1="191.89" y1="148.42" x2="184.81" y2="155.41" stroke="#262626" stroke-width="1.1" />
<line x1="193.93" y1="149.18" x2="186.89" y2="156.17" stroke="#262626" stroke-width="1.1" />
<line x1="195.97" y1="149.94" x2="188.96" y2="156.93" stroke="#262626" stroke-width="1.1" />
<line x1="198.01" y1="150.70" x2="191.04" y2="157.69" stroke="#262626" stroke-width="1.1" />
<line x1="200.05" y1="151.45" x2="193.12" y2="158.45" stroke="#262626" stroke-width="1.1" />
<line x1="202.10" y1="152.21" x2="195.20" y2="159.21" stroke="#262626" stroke-width="1.1" />
<line x1="204.14" y1="152.97" x2="197.27" y2="159.97" stroke="#262626" stroke-width="1.1" />
<line x1="206.18" y1="153.73" x2="199.35" y2="160.72" stroke="#262626" stroke-width="1.1" />
<line x1="208.22" y1="154.48" x2="201.43" y2="161.48" stroke="#262626" stroke-width="1.1" />
<line x1="210.26" y1="155.24" x2="203.50" y2="162.24" stroke="#262626" stroke-width="1.1" />
<line x1="212.30" y1="156.00" x2="205.58" y2="163.00" stroke="#262626" stroke-width="1.1" />
<line x1="84.92" y1="108.92" x2="75.97" y2="115.86" stroke="#fff" stroke-width="1.21" />
<line x1="86.02" y1="109.12" x2="73.23" y2="119.03" stroke="#222" stroke-width="1.1" />
<line x1="93.34" y1="112.05" x2="84.53" y2="118.99" stroke="#fff" stroke-width="1.21" />
<line x1="94.44" y1="112.25" x2="81.86" y2="122.16" stroke="#222" stroke-width="1.1" />
<line x1="101.76" y1="115.17" x2="93.10" y2="122.12" stroke="#fff" stroke-width="1.21" />
<line x1="102.86" y1="115.38" x2="90.49" y2="125.29" stroke="#222" stroke-width="1.1" />
<line x1="110.18" y1="118.30" x2="101.67" y2="125.25" stroke="#fff" stroke-width="1.21" />
<line x1="111.28" y1="118.50" x2="99.12" y2="128.43" stroke="#222" stroke-width="1.1" />
<line x1="118.59" y1="121.42" x2="110.24" y2="128.38" stroke="#fff" stroke-width="1.21" />
<line x1="119.69" y1="121.62" x2="107.76" y2="131.56" stroke="#222" stroke-width="1.1" />
<line x1="127.01" y1="124.55" x2="118.81" y2="131.51" stroke="#fff" stroke-width="1.21" />
<line x1="128.11" y1="124.75" x2="116.39" y2="134.69" stroke="#222" stroke-width="1.1" />
<line x1="135.43" y1="127.67" x2="127.37" y2="134.64" stroke="#fff" stroke-width="1.21" />
<line x1="136.53" y1="127.88" x2="125.02" y2="137.82" stroke="#222" stroke-width="1.1" />
<line x1="143.85" y1="130.80" x2="135.94" y2="137.77" stroke="#fff" stroke-width="1.21" />
<line x1="144.95" y1="131.00" x2="133.65" y2="140.95" stroke="#222" stroke-width="1.1" />
<line x1="152.27" y1="133.93" x2="144.51" y2="140.89" stroke="#fff" stroke-width="1.21" />
<line x1="153.37" y1="134.12" x2="142.28" y2="144.08" stroke="#222" stroke-width="1.1" />
<line x1="160.69" y1="137.05" x2="153.07" y2="144.02" stroke="#fff" stroke-width="1.21" />
<line x1="161.79" y1="137.25" x2="150.91" y2="147.21" stroke="#222" stroke-width="1.1" />
<line x1="169.11" y1="140.18" x2="161.64" y2="147.15" stroke="#fff" stroke-width="1.21" />
<line x1="170.21" y1="140.38" x2="159.54" y2="150.34" stroke="#222" stroke-width="1.1" />
<line x1="177.53" y1="143.30" x2="170.21" y2="150.28" stroke="#fff" stroke-width="1.21" />
<line x1="178.62" y1="143.50" x2="168.17" y2="153.47" stroke="#222" stroke-width="1.1" />
<line x1="185.94" y1="146.43" x2="178.78" y2="153.41" stroke="#fff" stroke-width="1.21" />
<line x1="187.04" y1="146.62" x2="176.81" y2="156.61" stroke="#222" stroke-width="1.1" />
<line x1="194.36" y1="149.55" x2="187.34" y2="156.54" stroke="#fff" stroke-width="1.21" />
<line x1="195.46" y1="149.75" x2="185.44" y2="159.74" stroke="#222" stroke-width="1.1" />
<line x1="202.78" y1="152.68" x2="195.91" y2="159.67" stroke="#fff" stroke-width="1.21" />
<line x1="203.88" y1="152.88" x2="194.07" y2="162.87" stroke="#222" stroke-width="1.1" />
<line x1="211.20" y1="155.80" x2="204.48" y2="162.80" stroke="#fff" stroke-width="1.21" />
<line x1="212.30" y1="156.00" x2="202.70" y2="166.00" stroke="#222" stroke-width="1.1" />
<line x1="68.50" y1="112.93" x2="205.58" y2="163.00" stroke="#2a2a2a" stroke-width="0.88" />
<line x1="66.55" y1="114.42" x2="204.14" y2="164.50" stroke="#2a2a2a" stroke-width="0.88" />
<line x1="212.30" y1="156.00" x2="202.70" y2="166.00" stroke="#242424" stroke-width="0.99" />
<path d="M73,124 Q76,134 100,143.5 T165,163 T205,174" fill="none" stroke="#242424" stroke-width="0.88" />
<path d="M58.6,153.4 L204.6,205.7 L204.6,209.9 M58.6,153.4 Q59,156 60.5,157.4 L204.2,209.6" fill="none" stroke="#242424" stroke-width="0.99" />
<path d="M62,162 L209.4,217" fill="none" stroke="#242424" stroke-width="0.99" />
<path d="M238.6,159.5 Q231,163 226,169.6 Q212.5,183 211.8,197.9 Q211.6,209 214.5,216 Q217,221 222,221.6 L228.5,221.4 L241.6,211.5" fill="none" stroke="#242424" stroke-width="1.21" />
<path d="M242.5,164.5 Q234,168 229.5,172.6 Q218.3,184 217.8,197.9 Q217.6,207 220.1,212.2 Q222.5,217 227.3,218.2 L240.4,209.3" fill="none" stroke="#242424" stroke-width="1.1" />
<path d="M66.6,192 L134.5,221.2 Q129.5,241.8 130.5,262.5 L64.2,236.2 Q60.9,214.1 66.6,192.0 Z" fill="#fff" stroke="#242424" stroke-width="1.32" />
<path d="M64.60,206.60 L75.00,209.70 L83.00,224.00 L101.50,248.50 L97.00,249.50 L64.40,236.00 Z" fill="url(#mesh)" stroke="none" stroke-width="0.0" />
<path d="M71.0,196.7 L83.8,202.2 Q85.6,203.0 85.0,204.9 L83.0,211.3 Q82.3,213.2 80.5,212.4 L67.6,207.0 Q65.8,206.2 66.4,204.3 L68.5,197.8 Q69.2,195.9 71.0,196.7 Z" fill="none" stroke="#242424" stroke-width="1.155" />
<path d="M67.2,208.8 L80.1,214.1 Q81.9,214.9 81.7,216.9 L81.0,223.9 Q80.8,225.9 78.9,225.1 L66.2,219.9 Q64.3,219.1 64.5,217.1 L65.2,210.0 Q65.4,208.0 67.2,208.8 Z" fill="none" stroke="#242424" stroke-width="1.155" />
<path d="M66.3,221.7 L79.0,226.8 Q80.9,227.6 81.2,229.6 L82.7,239.0 Q83.0,240.9 81.2,240.2 L68.9,235.2 Q67.0,234.5 66.7,232.5 L64.8,222.9 Q64.4,220.9 66.3,221.7 Z" fill="none" stroke="#242424" stroke-width="1.155" />
<path d="M89.2,204.6 L106.2,211.9 Q108.0,212.7 107.4,214.6 L105.5,220.7 Q104.9,222.6 103.1,221.9 L86.0,214.7 Q84.1,213.9 84.8,212.0 L86.8,205.7 Q87.4,203.8 89.2,204.6 Z" fill="none" stroke="#242424" stroke-width="1.155" />
<path d="M85.6,216.4 L102.6,223.6 Q104.5,224.3 104.3,226.3 L103.5,233.0 Q103.2,235.0 101.4,234.3 L84.4,227.3 Q82.6,226.6 82.8,224.6 L83.5,217.7 Q83.7,215.7 85.6,216.4 Z" fill="none" stroke="#242424" stroke-width="1.155" />
<path d="M84.5,229.1 L101.4,236.0 Q103.3,236.7 103.5,238.7 L104.6,247.7 Q104.8,249.7 103.0,249.0 L86.6,242.4 Q84.8,241.6 84.5,239.7 L83.0,230.3 Q82.7,228.3 84.5,229.1 Z" fill="none" stroke="#242424" stroke-width="1.155" />
<path d="M111.6,214.3 L129.5,222.0 Q131.3,222.8 130.8,224.8 L129.0,230.6 Q128.4,232.5 126.6,231.7 L108.5,224.2 Q106.7,223.4 107.3,221.5 L109.2,215.4 Q109.8,213.5 111.6,214.3 Z" fill="none" stroke="#242424" stroke-width="1.155" />
<path d="M108.1,225.9 L126.2,233.4 Q128.0,234.2 127.8,236.1 L126.9,242.6 Q126.6,244.6 124.8,243.8 L106.9,236.5 Q105.0,235.8 105.3,233.8 L106.1,227.1 Q106.3,225.1 108.1,225.9 Z" fill="none" stroke="#242424" stroke-width="1.155" />
<path d="M106.9,238.2 L124.7,245.5 Q126.6,246.2 126.7,248.2 L127.4,256.9 Q127.5,258.9 125.7,258.2 L108.4,251.2 Q106.6,250.4 106.3,248.5 L105.3,239.4 Q105.0,237.5 106.9,238.2 Z" fill="none" stroke="#242424" stroke-width="1.155" />
<path d="M138.1,221.6 L200.5,247 Q196.8,268.7 199.0,290.4 L133.5,265.5 Q131.3,243.6 138.1,221.6 Z" fill="#fff" stroke="#242424" stroke-width="1.32" />
<path d="M179.00,256.00 L186.00,250.00 L193.50,244.60 L200.20,247.40 L199.00,289.00 L192.00,285.60 L184.00,266.00 Z" fill="url(#mesh)" stroke="none" stroke-width="0.0" />
<path d="M142.4,226.2 L158.0,232.6 Q159.8,233.3 159.2,235.2 L156.5,243.6 Q155.9,245.6 154.1,244.8 L137.9,238.4 Q136.0,237.7 136.7,235.8 L139.9,227.3 Q140.5,225.4 142.4,226.2 Z" fill="none" stroke="#242424" stroke-width="1.155" />
<path d="M137.4,240.2 L153.7,246.6 Q155.6,247.3 155.4,249.3 L154.9,256.2 Q154.7,258.2 152.8,257.4 L136.3,251.0 Q134.5,250.3 134.7,248.3 L135.4,241.4 Q135.6,239.5 137.4,240.2 Z" fill="none" stroke="#242424" stroke-width="1.155" />
<path d="M136.4,252.8 L152.9,259.2 Q154.8,259.9 155.1,261.9 L156.3,269.6 Q156.6,271.5 154.7,270.8 L138.2,264.5 Q136.4,263.7 136.1,261.8 L134.9,254.1 Q134.6,252.1 136.4,252.8 Z" fill="none" stroke="#242424" stroke-width="1.155" />
<path d="M163.3,234.7 L176.1,240.0 Q178.0,240.7 177.4,242.7 L175.2,251.0 Q174.7,253.0 172.8,252.2 L159.5,247.0 Q157.6,246.2 158.2,244.3 L160.9,235.9 Q161.4,234.0 163.3,234.7 Z" fill="none" stroke="#242424" stroke-width="1.155" />
<path d="M159.1,248.7 L172.5,254.0 Q174.4,254.7 174.3,256.7 L173.9,263.5 Q173.8,265.5 171.9,264.8 L158.3,259.5 Q156.4,258.8 156.6,256.8 L157.1,250.0 Q157.3,248.0 159.1,248.7 Z" fill="none" stroke="#242424" stroke-width="1.155" />
<path d="M158.4,261.3 L172.0,266.6 Q173.9,267.3 174.2,269.3 L175.3,276.9 Q175.6,278.9 173.7,278.2 L160.1,272.9 Q158.3,272.2 158.0,270.2 L156.8,262.6 Q156.5,260.6 158.4,261.3 Z" fill="none" stroke="#242424" stroke-width="1.155" />
<path d="M181.5,242.2 L195.6,248.0 Q197.5,248.7 197.0,250.7 L195.3,259.0 Q194.8,260.9 193.0,260.2 L178.3,254.4 Q176.4,253.6 176.9,251.7 L179.1,243.4 Q179.6,241.4 181.5,242.2 Z" fill="none" stroke="#242424" stroke-width="1.155" />
<path d="M177.9,256.1 L192.7,261.9 Q194.6,262.7 194.5,264.7 L194.3,271.5 Q194.2,273.5 192.4,272.7 L177.4,266.9 Q175.5,266.2 175.6,264.2 L176.0,257.4 Q176.1,255.4 177.9,256.1 Z" fill="none" stroke="#242424" stroke-width="1.155" />
<path d="M177.5,268.7 L192.5,274.5 Q194.4,275.2 194.6,277.2 L195.7,284.8 Q196.0,286.8 194.1,286.1 L179.1,280.3 Q177.3,279.6 177.0,277.6 L175.9,269.9 Q175.6,268.0 177.5,268.7 Z" fill="none" stroke="#242424" stroke-width="1.155" />
<path d="M136.30,198.80 L141.30,205.60 L138.80,205.20 L138.80,217.50 L134.50,216.00 L134.50,204.20 L131.70,203.60 Z" fill="#fff" stroke="#242424" stroke-width="0.88" />
<path d="M240.67,209.24 L240.90,209.08 L241.18,208.89 L241.47,208.69 L241.77,208.47 L242.09,208.24 L242.42,208.00 L242.76,207.75 L243.12,207.49 L243.49,207.22 L243.88,206.95 L244.27,206.67 L244.67,206.38 L245.08,206.10 L245.50,205.81 L245.93,205.53 L246.35,205.24 L246.78,204.97 L247.21,204.70 L247.64,204.44 L248.06,204.18 L248.48,203.94 L248.90,203.72 L249.30,203.51 L249.69,203.31 L250.10,203.12 L250.51,202.94 L250.92,202.76 L251.33,202.59 L251.76,202.42 L252.19,202.26 L252.62,202.10 L253.07,201.94 L253.53,201.78 L254.00,201.62 L254.48,201.46 L254.98,201.30 L255.50,201.13 L256.02,200.96 L256.57,200.79 L257.13,200.61 L257.71,200.43 L258.31,200.23 L258.92,200.03 L259.56,199.82 L260.22,199.60 L260.90,199.37 L261.60,199.13 L262.32,198.87 L263.05,198.60 L263.82,198.33 L264.60,198.04 L265.41,197.74 L266.24,197.43 L267.08,197.11 L267.94,196.79 L268.82,196.46 L269.71,196.12 L270.60,195.79 L271.51,195.45 L272.42,195.10 L273.34,194.76 L274.26,194.42 L275.19,194.08 L276.11,193.75 L277.02,193.42 L277.94,193.09 L278.84,192.77 L279.74,192.46 L280.62,192.16 L281.49,191.87 L282.34,191.59 L283.18,191.32 L284.02,191.05 L284.87,190.79 L285.73,190.53 L286.60,190.27 L287.47,190.02 L288.35,189.76 L289.24,189.51 L290.12,189.26 L291.00,189.02 L291.88,188.78 L292.76,188.54 L293.62,188.31 L294.48,188.09 L295.33,187.87 L296.17,187.65 L297.00,187.44 L297.81,187.24 L298.60,187.04 L299.37,186.85 L300.12,186.66 L300.85,186.48 L301.56,186.31 L302.24,186.15 L302.90,185.99 L303.55,185.84 L304.18,185.69 L304.78,185.54 L305.36,185.39 L305.91,185.25 L306.43,185.11 L306.94,184.99 L307.41,184.86 L307.87,184.75 L308.30,184.65 L308.71,184.55 L309.10,184.46 L309.47,184.39 L309.82,184.32 L310.15,184.26 L310.46,184.22 L310.75,184.18 L311.03,184.15 L311.30,184.13 L311.55,184.12 L311.80,184.12 L312.04,184.13 L312.28,184.14 L312.52,184.17 L312.75,184.20 L312.99,184.25 L313.24,184.30 L313.48,184.37 L313.73,184.44 L313.98,184.52 L314.23,184.61 L314.47,184.72 L314.72,184.82 L314.96,184.94 L315.19,185.06 L315.42,185.19 L315.65,185.32 L315.86,185.46 L316.07,185.60 L316.26,185.74 L316.45,185.89 L316.62,186.03 L316.78,186.17 L316.92,186.31 L317.05,186.44 L317.17,186.57 L317.26,186.69 L317.34,186.79 L317.41,186.88 L317.47,186.98 L317.53,187.09 L317.59,187.21 L317.65,187.34 L317.70,187.48 L317.75,187.63 L317.80,187.79 L317.84,187.96 L317.88,188.14 L317.92,188.32 L317.94,188.51 L317.96,188.70 L317.98,188.90 L317.99,189.10 L317.99,189.30 L317.98,189.51 L317.97,189.71 L317.95,189.92 L317.93,190.12 L317.89,190.32 L317.85,190.52 L317.81,190.72 L317.76,190.91 L317.70,191.10 L317.63,191.30 L317.54,191.52 L317.45,191.74 L317.34,191.98 L317.22,192.22 L317.08,192.48 L316.93,192.74 L316.78,193.01 L316.61,193.28 L316.43,193.55 L316.24,193.83 L316.04,194.11 L315.83,194.40 L315.61,194.68 L315.38,194.96 L315.15,195.25 L314.91,195.53 L314.66,195.81 L314.40,196.08 L314.14,196.36 L313.88,196.63 L313.61,196.89 L313.35,197.14 L313.10,197.36 L312.84,197.58 L312.56,197.81 L312.25,198.04 L311.92,198.28 L311.58,198.52 L311.21,198.76 L310.83,199.01 L310.43,199.26 L310.02,199.51 L309.60,199.76 L309.17,200.02 L308.74,200.27 L308.29,200.53 L307.84,200.79 L307.39,201.05 L306.94,201.32 L306.48,201.59 L306.02,201.86 L305.57,202.14 L305.11,202.42 L304.66,202.70 L304.22,203.00 L303.80,203.28 L303.42,203.54 L303.06,203.79 L302.70,204.03 L302.34,204.27 L301.98,204.52 L301.62,204.76 L301.25,205.00 L300.89,205.25 L300.52,205.49 L300.16,205.74 L299.79,206.00 L299.43,206.25 L299.06,206.51 L298.70,206.78 L298.33,207.04 L297.97,207.32 L297.61,207.60 L297.25,207.89 L296.90,208.19 L296.54,208.50 L296.19,208.81 L295.85,209.14 L295.51,209.47 L295.17,209.81 L294.86,210.15 L294.55,210.49 L294.25,210.84 L293.96,211.19 L293.68,211.54 L293.41,211.89 L293.14,212.25 L292.88,212.61 L292.63,212.97 L292.38,213.33 L292.14,213.69 L291.91,214.06 L291.69,214.42 L291.47,214.79 L291.26,215.16 L291.05,215.53 L290.85,215.89 L290.66,216.26 L290.47,216.63 L290.29,217.00 L290.11,217.36 L289.94,217.73 L289.78,218.09 L289.61,218.47 L289.45,218.87 L289.28,219.29 L289.13,219.71 L288.99,220.12 L288.86,220.54 L288.74,220.95 L288.63,221.35 L288.53,221.76 L288.43,222.16 L288.34,222.55 L288.26,222.94 L288.18,223.32 L288.10,223.70 L288.03,224.07 L287.97,224.43 L287.90,224.79 L287.84,225.14 L287.79,225.47 L287.73,225.80 L287.68,226.12 L287.62,226.42 L287.57,226.72 L287.52,227.00 L287.47,227.28 L287.41,227.59 L287.35,227.92 L287.29,228.25 L287.24,228.58 L287.19,228.90 L287.14,229.22 L287.10,229.54 L287.06,229.85 L287.02,230.16 L286.98,230.46 L286.94,230.76 L286.91,231.05 L286.88,231.32 L286.85,231.59 L286.82,231.85 L286.79,232.10 L286.76,232.33 L286.74,232.55 L286.72,232.75 L286.70,232.94 L286.68,233.11 L286.66,233.26 L286.65,233.39 L286.63,233.50 L294.37,234.50 L294.39,234.35 L294.41,234.17 L294.43,233.99 L294.45,233.80 L294.47,233.60 L294.50,233.39 L294.52,233.17 L294.54,232.94 L294.57,232.70 L294.60,232.46 L294.62,232.21 L294.65,231.95 L294.69,231.69 L294.72,231.43 L294.75,231.16 L294.79,230.89 L294.83,230.61 L294.86,230.34 L294.90,230.06 L294.95,229.79 L294.99,229.52 L295.03,229.26 L295.08,228.99 L295.13,228.72 L295.19,228.41 L295.25,228.09 L295.31,227.76 L295.36,227.44 L295.42,227.11 L295.47,226.78 L295.53,226.46 L295.59,226.14 L295.64,225.82 L295.70,225.50 L295.76,225.18 L295.82,224.87 L295.89,224.55 L295.95,224.25 L296.02,223.95 L296.09,223.65 L296.17,223.36 L296.25,223.08 L296.33,222.80 L296.41,222.53 L296.50,222.27 L296.59,222.02 L296.68,221.78 L296.79,221.53 L296.90,221.26 L297.03,220.98 L297.17,220.70 L297.30,220.41 L297.44,220.13 L297.58,219.85 L297.73,219.57 L297.88,219.29 L298.04,219.01 L298.20,218.74 L298.36,218.46 L298.53,218.19 L298.70,217.92 L298.87,217.66 L299.05,217.39 L299.23,217.13 L299.42,216.88 L299.61,216.62 L299.80,216.37 L300.00,216.13 L300.20,215.89 L300.41,215.65 L300.62,215.41 L300.83,215.19 L301.03,214.97 L301.25,214.76 L301.47,214.55 L301.71,214.34 L301.95,214.13 L302.20,213.92 L302.47,213.71 L302.74,213.49 L303.02,213.28 L303.31,213.06 L303.61,212.84 L303.92,212.62 L304.24,212.40 L304.57,212.18 L304.90,211.95 L305.25,211.72 L305.60,211.48 L305.95,211.24 L306.32,211.00 L306.69,210.75 L307.06,210.50 L307.45,210.24 L307.83,209.97 L308.20,209.72 L308.55,209.48 L308.89,209.26 L309.26,209.03 L309.64,208.79 L310.04,208.55 L310.45,208.30 L310.88,208.05 L311.31,207.80 L311.76,207.54 L312.21,207.27 L312.67,207.01 L313.14,206.73 L313.61,206.46 L314.08,206.17 L314.55,205.88 L315.02,205.58 L315.49,205.28 L315.96,204.97 L316.43,204.65 L316.89,204.31 L317.34,203.97 L317.79,203.61 L318.23,203.24 L318.65,202.86 L319.03,202.50 L319.39,202.14 L319.75,201.78 L320.10,201.41 L320.44,201.04 L320.78,200.66 L321.11,200.28 L321.43,199.89 L321.75,199.50 L322.05,199.10 L322.35,198.70 L322.64,198.29 L322.92,197.88 L323.19,197.47 L323.45,197.05 L323.69,196.63 L323.93,196.21 L324.16,195.78 L324.37,195.34 L324.58,194.90 L324.77,194.46 L324.94,194.01 L325.10,193.55 L325.24,193.09 L325.37,192.63 L325.48,192.17 L325.57,191.71 L325.64,191.24 L325.70,190.78 L325.75,190.31 L325.78,189.85 L325.79,189.38 L325.79,188.91 L325.77,188.45 L325.73,187.98 L325.68,187.52 L325.61,187.06 L325.53,186.60 L325.43,186.14 L325.31,185.68 L325.17,185.23 L325.02,184.78 L324.84,184.34 L324.65,183.90 L324.43,183.46 L324.20,183.04 L323.94,182.62 L323.66,182.21 L323.37,181.83 L323.06,181.46 L322.74,181.11 L322.41,180.77 L322.07,180.44 L321.71,180.12 L321.34,179.81 L320.96,179.52 L320.57,179.23 L320.16,178.95 L319.75,178.69 L319.33,178.44 L318.89,178.19 L318.45,177.96 L317.99,177.74 L317.53,177.54 L317.05,177.34 L316.57,177.16 L316.07,177.00 L315.57,176.85 L315.06,176.72 L314.54,176.60 L314.02,176.51 L313.48,176.43 L312.95,176.37 L312.43,176.34 L311.91,176.32 L311.39,176.32 L310.88,176.34 L310.38,176.38 L309.88,176.43 L309.39,176.49 L308.90,176.56 L308.42,176.65 L307.94,176.74 L307.46,176.84 L306.98,176.94 L306.49,177.06 L306.01,177.18 L305.51,177.30 L305.01,177.43 L304.50,177.56 L303.97,177.69 L303.43,177.83 L302.88,177.97 L302.31,178.11 L301.72,178.26 L301.10,178.41 L300.44,178.56 L299.74,178.73 L299.02,178.90 L298.27,179.08 L297.50,179.27 L296.71,179.47 L295.90,179.67 L295.08,179.88 L294.23,180.09 L293.38,180.32 L292.51,180.54 L291.63,180.77 L290.74,181.01 L289.84,181.25 L288.94,181.50 L288.03,181.75 L287.12,182.01 L286.21,182.26 L285.30,182.53 L284.39,182.79 L283.49,183.06 L282.59,183.33 L281.70,183.61 L280.82,183.88 L279.93,184.17 L279.03,184.46 L278.12,184.77 L277.19,185.09 L276.26,185.41 L275.33,185.74 L274.39,186.08 L273.45,186.42 L272.51,186.76 L271.57,187.10 L270.63,187.45 L269.70,187.80 L268.78,188.14 L267.86,188.48 L266.96,188.82 L266.07,189.16 L265.20,189.49 L264.34,189.81 L263.50,190.12 L262.69,190.43 L261.90,190.72 L261.13,191.00 L260.39,191.27 L259.68,191.53 L259.01,191.77 L258.35,192.00 L257.72,192.21 L257.10,192.42 L256.49,192.62 L255.90,192.81 L255.33,193.00 L254.76,193.18 L254.20,193.36 L253.65,193.53 L253.11,193.71 L252.58,193.88 L252.05,194.05 L251.53,194.22 L251.00,194.40 L250.48,194.58 L249.97,194.77 L249.45,194.96 L248.93,195.15 L248.41,195.36 L247.89,195.58 L247.36,195.80 L246.84,196.04 L246.31,196.29 L245.76,196.56 L245.22,196.84 L244.68,197.14 L244.14,197.44 L243.62,197.75 L243.10,198.07 L242.59,198.39 L242.09,198.71 L241.60,199.03 L241.12,199.36 L240.66,199.68 L240.20,199.99 L239.76,200.30 L239.34,200.60 L238.93,200.90 L238.54,201.18 L238.18,201.44 L237.83,201.69 L237.51,201.93 L237.21,202.14 L236.95,202.33 L236.71,202.50 L236.52,202.63 L236.33,202.76 Z" fill="#fff" stroke="#242424" stroke-width="1.1" />
<path d="M243.6,207.1 Q243.0,202.8 240.4,199.8" fill="none" stroke="#242424" stroke-width="1.1" />
<path d="M246.5,205.1 Q246.2,200.8 243.8,197.6" fill="none" stroke="#242424" stroke-width="1.1" />
<path d="M249.4,203.5 Q249.6,199.1 247.6,195.7" fill="none" stroke="#242424" stroke-width="1.1" />
<path d="M252.3,202.2 Q252.9,197.9 251.2,194.3" fill="none" stroke="#242424" stroke-width="1.1" />
<path d="M255.8,201.0 Q256.5,196.7 255.0,193.1" fill="none" stroke="#242424" stroke-width="1.1" />
<path d="M259.5,199.9 Q260.1,195.5 258.5,192.0" fill="none" stroke="#242424" stroke-width="1.1" />
<path d="M263.9,198.3 Q264.4,194.0 262.6,190.4" fill="none" stroke="#242424" stroke-width="1.1" />
<path d="M267.2,197.1 Q267.7,192.7 265.9,189.2" fill="none" stroke="#242424" stroke-width="1.1" />
<path d="M271.7,195.4 Q272.2,191.0 270.4,187.5" fill="none" stroke="#242424" stroke-width="1.1" />
<path d="M275.4,194.0 Q275.9,189.7 274.2,186.1" fill="none" stroke="#242424" stroke-width="1.1" />
<path d="M279.0,192.7 Q279.6,188.4 278.0,184.8" fill="none" stroke="#242424" stroke-width="1.1" />
<path d="M283.3,191.3 Q284.0,187.0 282.5,183.4" fill="none" stroke="#242424" stroke-width="1.1" />
<path d="M287.6,190.0 Q288.4,185.7 287.0,182.0" fill="none" stroke="#242424" stroke-width="1.1" />
<path d="M292.0,188.8 Q292.9,184.5 291.5,180.8" fill="none" stroke="#242424" stroke-width="1.1" />
<path d="M296.2,187.6 Q297.2,183.4 295.9,179.7" fill="none" stroke="#242424" stroke-width="1.1" />
<path d="M300.1,186.7 Q301.1,182.4 299.8,178.7" fill="none" stroke="#242424" stroke-width="1.1" />
<path d="M305.1,185.4 Q306.1,181.2 304.7,177.5" fill="none" stroke="#242424" stroke-width="1.1" />
<path d="M309.0,184.5 Q310.3,180.3 309.2,176.5" fill="none" stroke="#242424" stroke-width="1.1" />
<path d="M312.5,184.1 Q315.3,180.8 315.8,176.9" fill="none" stroke="#242424" stroke-width="1.1" />
<path d="M315.6,185.3 Q319.6,183.4 321.6,180.0" fill="none" stroke="#242424" stroke-width="1.1" />
<path d="M317.5,186.9 Q321.8,187.6 325.4,186.0" fill="none" stroke="#242424" stroke-width="1.1" />
<path d="M318.0,189.9 Q321.3,192.8 325.2,193.4" fill="none" stroke="#242424" stroke-width="1.1" />
<path d="M316.5,193.5 Q318.5,197.4 321.9,199.3" fill="none" stroke="#242424" stroke-width="1.1" />
<path d="M313.9,196.6 Q315.1,200.8 318.1,203.4" fill="none" stroke="#242424" stroke-width="1.1" />
<path d="M310.3,199.4 Q310.6,203.7 312.9,206.9" fill="none" stroke="#242424" stroke-width="1.1" />
<path d="M305.8,202.0 Q306.2,206.4 308.6,209.5" fill="none" stroke="#242424" stroke-width="1.1" />
<path d="M301.2,205.0 Q301.7,209.4 304.2,212.4" fill="none" stroke="#242424" stroke-width="1.1" />
<path d="M296.8,208.3 Q297.9,212.5 300.9,215.1" fill="none" stroke="#242424" stroke-width="1.1" />
<path d="M292.6,213.0 Q294.8,216.8 298.3,218.6" fill="none" stroke="#242424" stroke-width="1.1" />
<path d="M289.7,218.1 Q292.6,221.4 296.4,222.5" fill="none" stroke="#242424" stroke-width="1.1" />
<path d="M288.0,224.0 Q291.5,226.6 295.4,226.9" fill="none" stroke="#242424" stroke-width="1.1" />
<path d="M287.1,229.4 Q290.7,231.9 294.7,232.0" fill="none" stroke="#242424" stroke-width="1.1" />
<path d="M243,200.2 Q236,201.5 235.2,206.5 Q235,209.5 238,209.8 Q241.5,209 243.5,204" fill="#fff" stroke="#242424" stroke-width="0.99" />
<path d="M286,228.5 Q281.5,238 280.2,246 Q280,252 281.5,255.7 M296,228.8 Q297.5,238 299.5,245 Q301.5,251 300,254.5 Q298.5,257 294.5,256.5" fill="none" stroke="#242424" stroke-width="1.1" />
<path d="M291.6,231.2 L283.5,250.2 M291.6,231.2 L294.3,250.2 M287.8,230 Q283.5,239 282.2,247.5 M294.6,231 Q296.5,241 297.6,250" fill="none" stroke="#242424" stroke-width="0.935" />
<path d="M288.5,236.1 H293 M287.4,239.4 H293.4 M286,243.7 H293.9" fill="none" stroke="#242424" stroke-width="0.99" />
<rect x="284.6" y="247.2" width="7.8" height="6.2" fill="#5a5a5a" stroke="#2a2a2a" stroke-width="0.8"/>
<path d="M284.6,250.2 H292.4" fill="none" stroke="#ddd" stroke-width="0.88" />
<path d="M142.20,472.90 L154.10,466.30 L190.00,483.00 L189.90,487.20 L163.70,498.80 L142.80,486.20 Z" fill="url(#speck)" stroke="#242424" stroke-width="1.21" />
<path d="M142.20,472.90 L154.10,466.30 L176.00,477.50 L164.30,483.70 Z" fill="url(#speck2)" stroke="#242424" stroke-width="1.21" />
<path d="M142.8,477.3 L163.7,488.6 L164.3,483.7 M142.6,481 L163.7,492.2 L163.7,498.8 M163.7,488.6 L178,482.8 M163.7,492.2 L181,485" fill="none" stroke="#242424" stroke-width="1.21" />
<path d="M155.9,474.3 Q155.4,472.3 157.4,472.6 L168.4,476.3 Q170,477 168.6,478 L166,479.4 Q164.6,480 163,479.3 L156.2,476.6 Z" fill="#fff" stroke="#242424" stroke-width="1.1" />
<path d="M211.50,513.00 L223.00,507.20 L253.40,522.00 L293.60,506.40 L296.80,507.60 L297.00,513.00 L249.30,531.00 L247.60,535.60 L232.80,540.00 L212.30,529.40 Z" fill="url(#speck)" stroke="#242424" stroke-width="1.21" />
<path d="M211.50,513.00 L223.00,507.20 L249.00,520.20 L235.30,522.80 Z" fill="url(#speck2)" stroke="#242424" stroke-width="1.21" />
<path d="M211.5,518.7 L233.7,529.6 L235.3,522.8 M211.8,523.6 L233.7,533.6 L232.8,540 M235.3,522.8 L253.4,522 M233.7,529.6 L247,525.4 M233.7,533.6 L248.5,529" fill="none" stroke="#242424" stroke-width="1.21" />
<path d="M223.2,512.6 Q222.7,510.4 224.7,510.8 L235.6,514.4 L236,517.6 L232.4,519 L223.6,515.6 Z" fill="#fff" stroke="#242424" stroke-width="1.1" />
<path d="M251,523.6 L257.5,521.2 L257.7,523.8 L251.2,526.2 Z M270.5,515.6 L279,512.5 L279.2,515 L270.7,518.1 Z" fill="#fff" stroke="#242424" stroke-width="0.99" />
<path d="M147.3,382 Q147.3,375.6 152.4,373.6 L174.5,364.9 Q178,363.6 181.5,365 L293,412.5 L293,506.6 L253.4,522 L151,461 Q148.2,459.4 148.1,456 Z" fill="#fff" stroke="#242424" stroke-width="1.375" />
<path d="M155.2,379.6 L249.6,424.2 Q253.2,425.8 256.6,424.4 L293,412.5" fill="none" stroke="#242424" stroke-width="1.375" />
<path d="M249.6,424.2 Q254,426.4 254,432 L253.5,522" fill="none" stroke="#242424" stroke-width="1.375" />
<path d="M255.6,428.5 L255.2,521.2" fill="none" stroke="#242424" stroke-width="0.88" />
<path d="M159,391.6 L207.5,414.4 Q211.2,416.2 211.4,420 L212.6,482.5 Q212.6,486.8 209,485 L157,459.6 Q154.4,458.2 154.4,455 L155.5,393.4 Q155.6,390 159,391.6 Z" fill="#fff" stroke="#242424" stroke-width="1.375" />
<clipPath id="gc"><path d="M160,394.6 L206,416.2 Q208.6,417.4 208.7,420.7 L209.8,481.8 L158.6,456.6 Q157,455.8 157,453.8 L158,396 Q158,393.6 160,394.6 Z"/></clipPath>
<clipPath id="fanc"><ellipse cx="182" cy="436.3" rx="25" ry="26.5"/></clipPath>
<g clip-path="url(#gc)">
<line x1="155.00" y1="391.50" x2="213.00" y2="416.20" stroke="#2a2a2a" stroke-width="1.045" />
<line x1="155.00" y1="393.89" x2="213.00" y2="418.75" stroke="#2a2a2a" stroke-width="1.045" />
<line x1="155.00" y1="396.29" x2="213.00" y2="421.29" stroke="#2a2a2a" stroke-width="1.045" />
<line x1="155.00" y1="398.68" x2="213.00" y2="423.84" stroke="#2a2a2a" stroke-width="1.045" />
<line x1="155.00" y1="401.07" x2="213.00" y2="426.39" stroke="#2a2a2a" stroke-width="1.045" />
<line x1="155.00" y1="403.46" x2="213.00" y2="428.93" stroke="#2a2a2a" stroke-width="1.045" />
<line x1="155.00" y1="405.86" x2="213.00" y2="431.48" stroke="#2a2a2a" stroke-width="1.045" />
<line x1="155.00" y1="408.25" x2="213.00" y2="434.02" stroke="#2a2a2a" stroke-width="1.045" />
<line x1="155.00" y1="410.64" x2="213.00" y2="436.57" stroke="#2a2a2a" stroke-width="1.045" />
<line x1="155.00" y1="413.04" x2="213.00" y2="439.12" stroke="#2a2a2a" stroke-width="1.045" />
<line x1="155.00" y1="415.43" x2="213.00" y2="441.66" stroke="#2a2a2a" stroke-width="1.045" />
<line x1="155.00" y1="417.82" x2="213.00" y2="444.21" stroke="#2a2a2a" stroke-width="1.045" />
<line x1="155.00" y1="420.21" x2="213.00" y2="446.76" stroke="#2a2a2a" stroke-width="1.045" />
<line x1="155.00" y1="422.61" x2="213.00" y2="449.30" stroke="#2a2a2a" stroke-width="1.045" />
<line x1="155.00" y1="425.00" x2="213.00" y2="451.85" stroke="#2a2a2a" stroke-width="1.045" />
<line x1="155.00" y1="427.39" x2="213.00" y2="454.40" stroke="#2a2a2a" stroke-width="1.045" />
<line x1="155.00" y1="429.79" x2="213.00" y2="456.94" stroke="#2a2a2a" stroke-width="1.045" />
<line x1="155.00" y1="432.18" x2="213.00" y2="459.49" stroke="#2a2a2a" stroke-width="1.045" />
<line x1="155.00" y1="434.57" x2="213.00" y2="462.04" stroke="#2a2a2a" stroke-width="1.045" />
<line x1="155.00" y1="436.96" x2="213.00" y2="464.58" stroke="#2a2a2a" stroke-width="1.045" />
<line x1="155.00" y1="439.36" x2="213.00" y2="467.13" stroke="#2a2a2a" stroke-width="1.045" />
<line x1="155.00" y1="441.75" x2="213.00" y2="469.68" stroke="#2a2a2a" stroke-width="1.045" />
<line x1="155.00" y1="444.14" x2="213.00" y2="472.22" stroke="#2a2a2a" stroke-width="1.045" />
<line x1="155.00" y1="446.54" x2="213.00" y2="474.77" stroke="#2a2a2a" stroke-width="1.045" />
<line x1="155.00" y1="448.93" x2="213.00" y2="477.31" stroke="#2a2a2a" stroke-width="1.045" />
<line x1="155.00" y1="451.32" x2="213.00" y2="479.86" stroke="#2a2a2a" stroke-width="1.045" />
<line x1="155.00" y1="453.71" x2="213.00" y2="482.41" stroke="#2a2a2a" stroke-width="1.045" />
<line x1="155.00" y1="456.11" x2="213.00" y2="484.95" stroke="#2a2a2a" stroke-width="1.045" />
<line x1="155.00" y1="458.50" x2="213.00" y2="487.50" stroke="#2a2a2a" stroke-width="1.045" />
<g clip-path="url(#fanc)"><path d="M184.6,410.1 L157,437.7 L150,470 L186.5,463 L208.2,438.1 L215,400 Z" fill="#fff"/></g>
<line x1="169.90" y1="394.00" x2="169.90" y2="415.00" stroke="#242424" stroke-width="1.1" />
<line x1="169.90" y1="452.00" x2="169.90" y2="466.00" stroke="#242424" stroke-width="1.1" />
<line x1="182.80" y1="404.00" x2="182.80" y2="420.00" stroke="#242424" stroke-width="1.1" />
<line x1="182.80" y1="452.00" x2="182.80" y2="474.00" stroke="#242424" stroke-width="1.1" />
<line x1="195.80" y1="411.00" x2="195.80" y2="480.00" stroke="#242424" stroke-width="1.1" />
</g>
<ellipse cx="182" cy="436.3" rx="25" ry="26.5" fill="none" stroke="#242424" stroke-width="1.0" clip-path="url(#gc)"/>
<path d="M160,394.6 L206,416.2 Q208.6,417.4 208.7,420.7 L209.8,481.8 L158.6,456.6 Q157,455.8 157,453.8 L158,396 Q158,393.6 160,394.6 Z" fill="none" stroke="#242424" stroke-width="0.99" />
<path d="M259.2,433.5 Q259.2,431.5 261.2,431 L274.6,428.6 Q276.7,428.3 276.7,430.3 L276.7,449.5 Q276.7,451.2 275,451.7 L261.5,457 Q259.6,457.6 259.6,455.6 Z" fill="#fff" stroke="#242424" stroke-width="1.43" />
<path d="M262,435.5 L274.2,433 L274.2,448.5 L262.3,453.2 Z M262,439.8 L274.2,437" fill="none" stroke="#242424" stroke-width="1.1" />
<path d="M267,450.2 L273.6,447.8 L274,452.6 L267.5,455 Z" fill="#fff" stroke="#242424" stroke-width="1.1" />
<path d="M269.3,454.8 Q268.6,464 270.5,468.8 Q273,472.4 278,466 Q282.6,459 284.2,451" fill="none" stroke="#242424" stroke-width="1.155" />
<path d="M271.2,454.5 Q270.6,463 272.2,466 Q273.8,468 276.6,464.2 Q280.8,458 282.2,451" fill="none" stroke="#242424" stroke-width="1.155" />
<path d="M185.80,388.40 L190.90,383.20 L191.60,385.60 L201.00,385.40 L201.90,389.40 L192.80,389.50 L193.40,392.00 Z" fill="#fff" stroke="#242424" stroke-width="0.99" />
<path d="M292.8,398 Q297.6,408 294.2,421" fill="none" stroke="#242424" stroke-width="0.99" />
<line x1="293.40" y1="405.00" x2="293.40" y2="494.50" stroke="#242424" stroke-width="1.1" />
<line x1="297.20" y1="419.00" x2="297.20" y2="494.50" stroke="#242424" stroke-width="1.1" />
<line x1="295.00" y1="419.00" x2="295.00" y2="494.50" stroke="#242424" stroke-width="0.66" />
<line x1="293.40" y1="420.00" x2="297.20" y2="420.00" stroke="#242424" stroke-width="0.77" />
<line x1="293.40" y1="422.70" x2="297.20" y2="422.70" stroke="#242424" stroke-width="0.77" />
<line x1="293.40" y1="425.40" x2="297.20" y2="425.40" stroke="#242424" stroke-width="0.77" />
<line x1="293.40" y1="428.10" x2="297.20" y2="428.10" stroke="#242424" stroke-width="0.77" />
<line x1="293.40" y1="430.80" x2="297.20" y2="430.80" stroke="#242424" stroke-width="0.77" />
<line x1="293.40" y1="433.50" x2="297.20" y2="433.50" stroke="#242424" stroke-width="0.77" />
<line x1="293.40" y1="436.20" x2="297.20" y2="436.20" stroke="#242424" stroke-width="0.77" />
<line x1="293.40" y1="438.90" x2="297.20" y2="438.90" stroke="#242424" stroke-width="0.77" />
<line x1="293.40" y1="441.60" x2="297.20" y2="441.60" stroke="#242424" stroke-width="0.77" />
<line x1="293.40" y1="444.30" x2="297.20" y2="444.30" stroke="#242424" stroke-width="0.77" />
<line x1="293.40" y1="447.00" x2="297.20" y2="447.00" stroke="#242424" stroke-width="0.77" />
<line x1="293.40" y1="449.70" x2="297.20" y2="449.70" stroke="#242424" stroke-width="0.77" />
<line x1="293.40" y1="452.40" x2="297.20" y2="452.40" stroke="#242424" stroke-width="0.77" />
<line x1="293.40" y1="455.10" x2="297.20" y2="455.10" stroke="#242424" stroke-width="0.77" />
<line x1="293.40" y1="457.80" x2="297.20" y2="457.80" stroke="#242424" stroke-width="0.77" />
<line x1="293.40" y1="460.50" x2="297.20" y2="460.50" stroke="#242424" stroke-width="0.77" />
<line x1="293.40" y1="463.20" x2="297.20" y2="463.20" stroke="#242424" stroke-width="0.77" />
<line x1="293.40" y1="465.90" x2="297.20" y2="465.90" stroke="#242424" stroke-width="0.77" />
<line x1="293.40" y1="468.60" x2="297.20" y2="468.60" stroke="#242424" stroke-width="0.77" />
<line x1="293.40" y1="471.30" x2="297.20" y2="471.30" stroke="#242424" stroke-width="0.77" />
<line x1="293.40" y1="474.00" x2="297.20" y2="474.00" stroke="#242424" stroke-width="0.77" />
<line x1="293.40" y1="476.70" x2="297.20" y2="476.70" stroke="#242424" stroke-width="0.77" />
<line x1="293.40" y1="479.40" x2="297.20" y2="479.40" stroke="#242424" stroke-width="0.77" />
<line x1="293.40" y1="482.10" x2="297.20" y2="482.10" stroke="#242424" stroke-width="0.77" />
<line x1="293.40" y1="484.80" x2="297.20" y2="484.80" stroke="#242424" stroke-width="0.77" />
<line x1="293.40" y1="487.50" x2="297.20" y2="487.50" stroke="#242424" stroke-width="0.77" />
<line x1="293.40" y1="490.20" x2="297.20" y2="490.20" stroke="#242424" stroke-width="0.77" />
<line x1="293.40" y1="492.90" x2="297.20" y2="492.90" stroke="#242424" stroke-width="0.77" />
<rect x="281.9" y="253.5" width="11.2" height="60" fill="#fff" stroke="none"/>
<line x1="281.90" y1="253.50" x2="281.90" y2="313.00" stroke="#242424" stroke-width="1.1" />
<line x1="283.70" y1="253.50" x2="283.70" y2="313.00" stroke="#242424" stroke-width="0.66" />
<line x1="287.80" y1="253.50" x2="287.80" y2="313.00" stroke="#242424" stroke-width="0.935" />
<line x1="290.50" y1="253.50" x2="290.50" y2="313.00" stroke="#242424" stroke-width="0.88" />
<line x1="293.10" y1="253.50" x2="293.10" y2="313.00" stroke="#242424" stroke-width="1.1" />
<rect x="281.2" y="312.6" width="11.5" height="152.6" fill="#fff" stroke="#242424" stroke-width="1.05"/>
<path d="M281.2,319.0 Q287,322.4 292.7,318.4" fill="none" stroke="#242424" stroke-width="1.1" />
<path d="M281.2,325.6 Q287,329.0 292.7,325.0" fill="none" stroke="#242424" stroke-width="1.1" />
<path d="M281.2,332.1 Q287,335.5 292.7,331.5" fill="none" stroke="#242424" stroke-width="1.1" />
<path d="M281.2,338.6 Q287,342.0 292.7,338.0" fill="none" stroke="#242424" stroke-width="1.1" />
<path d="M281.2,344.9 Q287,348.3 292.7,344.3" fill="none" stroke="#242424" stroke-width="1.1" />
<path d="M281.2,351.2 Q287,354.6 292.7,350.6" fill="none" stroke="#242424" stroke-width="1.1" />
<path d="M281.2,357.5 Q287,360.9 292.7,356.9" fill="none" stroke="#242424" stroke-width="1.1" />
<path d="M281.2,363.6 Q287,367.0 292.7,363.0" fill="none" stroke="#242424" stroke-width="1.1" />
<path d="M281.2,369.7 Q287,373.1 292.7,369.1" fill="none" stroke="#242424" stroke-width="1.1" />
<path d="M281.2,375.7 Q287,379.1 292.7,375.1" fill="none" stroke="#242424" stroke-width="1.1" />
<path d="M281.2,381.6 Q287,385.0 292.7,381.0" fill="none" stroke="#242424" stroke-width="1.1" />
<path d="M281.2,387.5 Q287,390.9 292.7,386.9" fill="none" stroke="#242424" stroke-width="1.1" />
<path d="M281.2,393.3 Q287,396.7 292.7,392.7" fill="none" stroke="#242424" stroke-width="1.1" />
<path d="M281.2,399.0 Q287,402.4 292.7,398.4" fill="none" stroke="#242424" stroke-width="1.1" />
<path d="M281.2,404.7 Q287,408.1 292.7,404.1" fill="none" stroke="#242424" stroke-width="1.1" />
<path d="M281.2,410.3 Q287,413.7 292.7,409.7" fill="none" stroke="#242424" stroke-width="1.1" />
<path d="M281.2,415.8 Q287,419.2 292.7,415.2" fill="none" stroke="#242424" stroke-width="1.1" />
<path d="M281.2,421.3 Q287,424.7 292.7,420.7" fill="none" stroke="#242424" stroke-width="1.1" />
<path d="M281.2,426.7 Q287,430.1 292.7,426.1" fill="none" stroke="#242424" stroke-width="1.1" />
<path d="M281.2,432.0 Q287,435.4 292.7,431.4" fill="none" stroke="#242424" stroke-width="1.1" />
<path d="M281.2,437.3 Q287,440.7 292.7,436.7" fill="none" stroke="#242424" stroke-width="1.1" />
<path d="M281.2,442.5 Q287,445.9 292.7,441.9" fill="none" stroke="#242424" stroke-width="1.1" />
<path d="M281.2,447.6 Q287,451.0 292.7,447.0" fill="none" stroke="#242424" stroke-width="1.1" />
<path d="M281.2,452.7 Q287,456.1 292.7,452.1" fill="none" stroke="#242424" stroke-width="1.1" />
<path d="M281.2,457.8 Q287,461.2 292.7,457.2" fill="none" stroke="#242424" stroke-width="1.1" />
<path d="M281.2,462.7 Q287,466.1 292.7,462.1" fill="none" stroke="#242424" stroke-width="1.1" />
<rect x="282.4" y="465" width="8.4" height="15" fill="#fff" stroke="#242424" stroke-width="1.0"/>
<path d="M283,479.4 L286.8,470.5 L290.6,479.4 Z" fill="#3a3a3a" stroke="#242424" stroke-width="0.88" />
<rect x="281.8" y="479.2" width="9.4" height="10.4" rx="1.6" fill="#fff" stroke="#242424" stroke-width="1.1"/>
<path d="M281.8,481.6 Q286.5,483 291.2,481.6 M281.8,484 Q286.5,485.4 291.2,484" fill="none" stroke="#242424" stroke-width="1.1" />
<path d="M286.2,490 L282.5,498.7 M288,490 L284.6,498.4 M289.6,490 L288.8,499.4 M291.2,490 L290.8,499.6" fill="none" stroke="#242424" stroke-width="0.99" />
<path d="M275.3,501 L275.3,508 L288,512.6 Q293,513 294.3,509 M275.3,501 L280.5,499.3 L293.5,503.8 L296,507.5" fill="none" stroke="#242424" stroke-width="0.99" />
<circle cx="283.3" cy="498.9" r="1.5" fill="#fff" stroke="#242424" stroke-width="0.9"/>
<circle cx="280.4" cy="503.9" r="1.5" fill="#fff" stroke="#242424" stroke-width="0.9"/>
<circle cx="287.6" cy="506.6" r="1.5" fill="#fff" stroke="#242424" stroke-width="0.9"/>
<path d="M281.5,502.6 L286.4,505.6 M279.2,505 L277,507 M289,505.6 L292.5,503" fill="none" stroke="#242424" stroke-width="0.88" />
<path d="M297.8,464.3 L344.6,473.6 M297.8,464.3 L290,467.6" fill="none" stroke="#242424" stroke-width="0.935" />
<path d="M18.90,82.00 L26.30,75.50 L27.10,79.60 L55.80,89.40 L56.70,84.50 L64.00,99.30 L55.80,105.80 L55.00,101.70 L27.10,92.70 L26.30,96.00 Z" fill="#fff" stroke="#242424" stroke-width="0.99" />
<path d="M252.60,155.40 L259.60,147.40 L260.00,151.50 L292.60,157.50 L292.40,152.50 L302.80,166.10 L295.00,173.80 L294.50,170.10 L262.50,164.60 L262.00,168.00 Z" fill="#fff" stroke="#242424" stroke-width="1.045" />
<path d="M192.6,48.2 L192.6,38.4 L189,37.6 L199.2,33 L208,44.8 L204.2,44.8 L204.2,48.2" fill="none" stroke="#242424" stroke-width="0.99" />
<path d="M193.4,57.5 L193.4,64.4 M204.2,57.5 L204.2,68.2 M189,61.6 L197.9,73 L207.8,70.5 L204.2,68.2" fill="none" stroke="#242424" stroke-width="0.99" />
<path d="M192.6,51 V55 M204.2,51 V55" fill="none" stroke="#777" stroke-width="0.77" stroke-dasharray="1.2 1.2"/>
<path d="M222.80,350.20 L231.70,360.90 L228.20,360.90 L227.90,395.80 L231.10,396.50 L222.20,400.30 L214.20,390.10 L217.10,390.10 L217.80,354.60 L215.00,353.70 Z" fill="#fff" stroke="#242424" stroke-width="1.045" />
<path d="M103,381 L105.9,378.1 L106.8,382.2 L137.5,393.4 L136.9,390.2 L144.4,404.3 L135.5,407.7 L135.7,404.4 L107.3,392.7 L105.4,396 L103.4,391.2" fill="#fff" stroke="#242424" stroke-width="1.045" />
<path d="M129.70,459.00 L136.30,447.10 L137.20,450.70 L173.90,435.10 L173.30,431.00 L181.60,436.90 L175.10,448.90 L174.50,444.70 L137.50,460.80 L136.90,464.40 Z" fill="#fff" stroke="#242424" stroke-width="1.045" />
<path d="M294.30,420.80 L298.60,408.50 L301.00,411.80 L332.00,400.20 L331.20,395.80 L341.20,403.00 L334.00,414.80 L333.00,411.20 L301.50,423.00 L300.50,427.50 Z" fill="#fff" stroke="#242424" stroke-width="0.99" />
<path d="M282.50,467.50 L290.50,462.50 L292.50,466.50 L321.50,480.20 L323.00,476.30 L328.50,491.00 L313.20,493.80 L316.00,488.80 L288.00,476.30 L286.50,479.50 Z" fill="#fff" stroke="#242424" stroke-width="0.99" />
<g font-family="'Liberation Sans', Arial, sans-serif" fill="#242424">
<line x1="127.10" y1="35.60" x2="126.40" y2="70.90" stroke="#242424" stroke-width="0.935" />
<line x1="146.60" y1="38.10" x2="138.20" y2="69.60" stroke="#242424" stroke-width="0.935" />
<line x1="227.60" y1="65.20" x2="216.90" y2="85.00" stroke="#242424" stroke-width="0.935" />
<circle cx="126.8" cy="28.9" r="6.8" fill="#fff" stroke="#242424" stroke-width="0.95"/>
<text x="126.8" y="32.61" font-size="10.3" text-anchor="middle" fill="#242424">3</text>
<circle cx="147.4" cy="31.2" r="7.0" fill="#fff" stroke="#242424" stroke-width="0.95"/>
<text x="147.4" y="34.91" font-size="10.3" text-anchor="middle" fill="#242424">2</text>
<circle cx="231.2" cy="59.1" r="7.0" fill="#fff" stroke="#242424" stroke-width="0.95"/>
<text x="231.2" y="62.81" font-size="10.3" text-anchor="middle" fill="#242424">1</text>
<line x1="295.70" y1="250.50" x2="317.60" y2="265.40" stroke="#242424" stroke-width="0.935" />
<circle cx="323.5" cy="269.4" r="7.1" fill="#fff" stroke="#242424" stroke-width="0.95"/>
<text x="323.5" y="273.36" font-size="11" text-anchor="middle" fill="#242424">6</text>
<line x1="418.70" y1="390.90" x2="438.00" y2="399.00" stroke="#333" stroke-width="0.88" />
<circle cx="413.1" cy="388.6" r="6.1" fill="#fff" stroke="#242424" stroke-width="0.9"/>
<text transform="translate(413.1 391.98) scale(0.72 1)" x="0" y="0" font-size="9.4" text-anchor="middle" fill="#242424">7</text>
<line x1="567.50" y1="434.30" x2="581.70" y2="450.80" stroke="#333" stroke-width="0.88" />
<circle cx="563.4" cy="429.5" r="6.3" fill="#fff" stroke="#242424" stroke-width="0.9"/>
<text transform="translate(563.4 432.88) scale(0.72 1)" x="0" y="0" font-size="9.4" text-anchor="middle" fill="#242424">8</text>
<line x1="643.00" y1="422.30" x2="625.40" y2="439.20" stroke="#333" stroke-width="0.88" />
<circle cx="647.6" cy="418" r="6.3" fill="#fff" stroke="#242424" stroke-width="0.9"/>
<text transform="translate(647.6 421.38) scale(0.72 1)" x="0" y="0" font-size="9.4" text-anchor="middle" fill="#242424">9</text>
<text x="92.1" y="394.7" font-size="10.9">A</text>
<text x="118.8" y="463.5" font-size="10.6">B</text>
<text x="330.9" y="497" font-size="11">C</text>
<text x="578.6" y="406.2" font-size="10">ST3.9x10-C-H</text>
</g>
<rect x="445.4" y="386.6" width="29.9" height="67.3" rx="2.6" fill="#fff" stroke="#242424" stroke-width="1.3"/>
<rect x="448.6" y="388.6" width="23.4" height="8.2" rx="1.2" fill="#fff" stroke="#242424" stroke-width="0.9"/>
<line x1="445.40" y1="398.40" x2="475.30" y2="398.40" stroke="#242424" stroke-width="1.1" />
<line x1="445.40" y1="400.40" x2="475.30" y2="400.40" stroke="#242424" stroke-width="1.1" />
<line x1="445.40" y1="403.20" x2="475.30" y2="403.20" stroke="#242424" stroke-width="1.1" />
<line x1="445.40" y1="406.10" x2="475.30" y2="406.10" stroke="#242424" stroke-width="1.1" />
<line x1="445.40" y1="409.00" x2="475.30" y2="409.00" stroke="#242424" stroke-width="1.1" />
<rect x="451.4" y="398.2" width="18.6" height="11.6" rx="1.8" fill="#2c2c2c" stroke="#242424" stroke-width="0.9"/>
<rect x="454.6" y="401" width="12.3" height="6.4" fill="#fff" stroke="none"/>
<path d="M446,411 Q460.3,413.6 474.7,411" fill="none" stroke="#242424" stroke-width="1.1" />
<path d="M447.7,412.2 V450.5 Q447.9,452 449.5,452.2 H471.2 Q472.8,452 473,450.5 V412.2" fill="none" stroke="#242424" stroke-width="0.77" />
<rect x="449.5" y="416.0" width="9.399999999999977" height="4.0" rx="2.0" fill="#fff" stroke="#242424" stroke-width="1.15"/>
<rect x="461.8" y="416.0" width="9.399999999999977" height="4.0" rx="2.0" fill="#fff" stroke="#242424" stroke-width="1.15"/>
<path d="M452.2,413.8 L454.4,415.6 L456.8,413.6 M464.6,415.4 L466.6,413.6 L468.8,415.4 M464,415.6 H469.4" fill="none" stroke="#242424" stroke-width="1.1" />
<rect x="449.5" y="425.09999999999997" width="4.300000000000011" height="3.2" rx="1.6" fill="#fff" stroke="#242424" stroke-width="1.15"/>
<rect x="456.4" y="424.55" width="9.300000000000011" height="4.3" rx="2.15" fill="#fff" stroke="#242424" stroke-width="1.15"/>
<rect x="467.6" y="425.09999999999997" width="3.8999999999999773" height="3.2" rx="1.6" fill="#fff" stroke="#242424" stroke-width="1.15"/>
<rect x="449.5" y="431.45" width="5.100000000000023" height="3.5" rx="1.75" fill="#fff" stroke="#242424" stroke-width="1.15"/>
<rect x="457.5" y="431.45" width="6.5" height="3.5" rx="1.75" fill="#fff" stroke="#242424" stroke-width="1.15"/>
<rect x="467.2" y="431.45" width="4.800000000000011" height="3.5" rx="1.75" fill="#fff" stroke="#242424" stroke-width="1.15"/>
<rect x="467.2" y="437.65" width="4.800000000000011" height="3.5" rx="1.75" fill="#fff" stroke="#242424" stroke-width="1.15"/>
<path d="M459.2,438 V441.2 M461,437.6 V441.6 M462.4,438.4 V440.8" fill="none" stroke="#242424" stroke-width="1.21" />
<circle cx="464" cy="445.9" r="2" fill="#fff" stroke="#242424" stroke-width="1.1"/>
<path d="M458.6,450.6 H466.4" fill="none" stroke="#888" stroke-width="0.55" stroke-dasharray="1.1 0.5"/>
<path d="M580.9,438.79999999999995 Q581.1,435.79999999999995 584.1,436.0 L593.1,435.0 L584.7,440.79999999999995 Q581.3000000000001,441.4 580.9,438.79999999999995 Z" fill="#9a9a9a" stroke="#242424" stroke-width="0.99" />
<path d="M584.1,436.0 L584.7,440.79999999999995 M586.1,435.79999999999995 L586.5,439.79999999999995 M588.1,435.59999999999997 L588.3000000000001,438.79999999999995" fill="none" stroke="#222" stroke-width="0.77" />
<path d="M580.9,450.9 Q581.1,447.9 584.1,448.1 L593.1,447.1 L584.7,452.9 Q581.3000000000001,453.5 580.9,450.9 Z" fill="#9a9a9a" stroke="#242424" stroke-width="0.99" />
<path d="M584.1,448.1 L584.7,452.9 M586.1,447.9 L586.5,451.9 M588.1,447.7 L588.3000000000001,450.9" fill="none" stroke="#222" stroke-width="0.77" />
<path d="M601.9,421.7 Q603,418.5 606.5,417.6 Q613,416.3 619,419.6 Q624,423 624.4,428 L624.9,446.8 Q621,451.5 614,451.5 Q610,450.5 608.7,448.9 L597.7,444.7 L597.7,425.4 Q599.5,423 601.9,421.7 Z" fill="#fff" stroke="#242424" stroke-width="1.1" />
<path d="M624.4,433 Q619,432 611.8,435.8 L611.5,440 Q610.5,445 608.7,448.9" fill="none" stroke="#242424" stroke-width="0.99" />
<path d="M605.5,419.8 Q613,418.5 618.5,421.5 Q622.6,424.5 623.3,428.6 M620.2,425.9 L619.6,432.5" fill="none" stroke="#242424" stroke-width="0.88" />
<path d="M597.7,425.4 Q598.5,422.8 601.3,423.3 Q605.8,423.6 606.6,426.5 L606.6,439.5" fill="none" stroke="#242424" stroke-width="0.99" />
<path d="M599.8,444 L599.8,427.4 Q600.5,425 602.8,425.4 Q605,425.8 605.5,427.5" fill="none" stroke="#242424" stroke-width="0.88" />
<rect x="604" y="433.2" width="1.5" height="6.3" fill="#ddd" stroke="#242424" stroke-width="0.6"/>
<line x1="596.10" y1="433.70" x2="612.80" y2="425.40" stroke="#242424" stroke-width="0.88" />
<line x1="596.10" y1="445.20" x2="610.80" y2="440.50" stroke="#242424" stroke-width="0.88" />
<path d="M607.6,421.4 l0.8,0.8 M620.3,428.6 l0.6,1" fill="none" stroke="#242424" stroke-width="0.88" /></svg>
</body></html>
